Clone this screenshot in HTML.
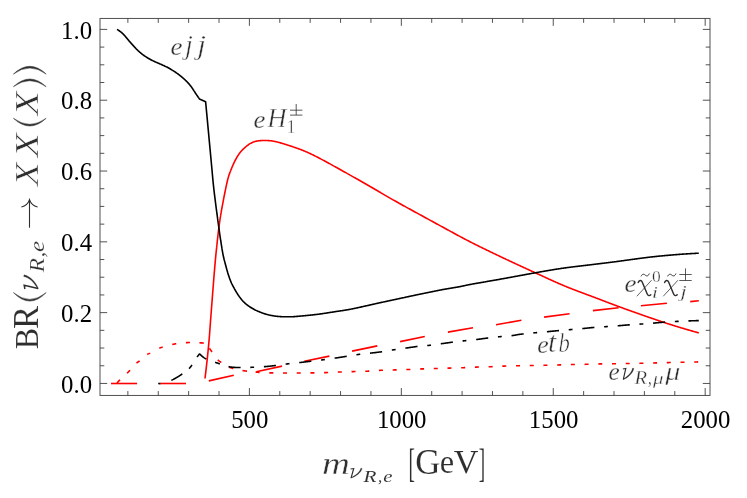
<!DOCTYPE html>
<html><head><meta charset="utf-8"><title>BR plot</title>
<style>html,body{margin:0;padding:0;background:#fff;}svg{display:block;will-change:transform;}text{font-family:"Liberation Serif",serif;}</style>
</head><body>
<svg width="747" height="498" viewBox="0 0 747 498">
<rect x="0" y="0" width="747" height="498" fill="#ffffff"/>
<g fill="none" stroke-width="1.6" stroke-linejoin="round" stroke-linecap="butt">
<path d="M205.00,378.50 L205.06,378.00 L205.12,377.51 L205.18,377.01 L205.24,376.51 L205.29,376.01 L205.35,375.52 L205.41,375.02 L205.47,374.52 L205.53,374.03 L205.59,373.53 L205.64,373.03 L205.70,372.53 L205.76,372.04 L205.82,371.54 L205.88,371.04 L205.93,370.55 L205.99,370.05 L206.05,369.55 L206.11,369.05 L206.16,368.56 L206.22,368.06 L206.28,367.56 L206.34,367.07 L206.39,366.57 L206.45,366.07 L206.51,365.57 L206.56,365.08 L206.62,364.58 L206.67,364.08 L206.73,363.58 L206.79,363.09 L206.84,362.59 L206.90,362.09 L206.95,361.59 L207.01,361.10 L207.06,360.60 L207.11,360.10 L207.17,359.60 L207.22,359.11 L207.28,358.61 L207.33,358.11 L207.38,357.61 L207.44,357.12 L207.49,356.62 L207.54,356.12 L207.60,355.62 L207.65,355.13 L207.70,354.63 L207.75,354.13 L207.80,353.63 L207.85,353.14 L207.90,352.64 L207.96,352.14 L208.01,351.64 L208.06,351.14 L208.11,350.65 L208.16,350.15 L208.20,349.65 L208.25,349.15 L208.30,348.65 L208.35,348.16 L208.40,347.66 L208.45,347.16 L208.49,346.66 L208.54,346.16 L208.59,345.67 L208.63,345.17 L208.68,344.67 L208.73,344.17 L208.77,343.67 L208.82,343.17 L208.86,342.68 L208.90,342.18 L208.95,341.68 L208.99,341.18 L209.04,340.68 L209.08,340.18 L209.12,339.68 L209.16,339.19 L209.20,338.69 L209.25,338.19 L209.29,337.69 L209.33,337.19 L209.37,336.69 L209.41,336.19 L209.45,335.69 L209.48,335.20 L209.52,334.70 L209.56,334.20 L209.60,333.70 L209.64,333.20 L209.67,332.70 L209.71,332.20 L209.75,331.70 L209.78,331.20 L209.82,330.70 L209.86,330.21 L209.89,329.71 L209.93,329.21 L209.96,328.71 L210.00,328.21 L210.04,327.71 L210.07,327.21 L210.11,326.71 L210.14,326.21 L210.18,325.71 L210.21,325.21 L210.25,324.72 L210.29,324.22 L210.32,323.72 L210.36,323.22 L210.40,322.72 L210.43,322.22 L210.47,321.72 L210.51,321.22 L210.54,320.72 L210.58,320.22 L210.62,319.73 L210.66,319.23 L210.70,318.73 L210.74,318.23 L210.77,317.73 L210.81,317.23 L210.85,316.73 L210.89,316.23 L210.93,315.73 L210.97,315.23 L211.00,314.74 L211.04,314.24 L211.08,313.74 L211.12,313.24 L211.16,312.74 L211.20,312.24 L211.24,311.74 L211.27,311.24 L211.31,310.74 L211.35,310.25 L211.39,309.75 L211.43,309.25 L211.47,308.75 L211.50,308.25 L211.54,307.75 L211.58,307.25 L211.62,306.75 L211.66,306.25 L211.70,305.76 L211.74,305.26 L211.77,304.76 L211.81,304.26 L211.85,303.76 L211.89,303.26 L211.93,302.76 L211.97,302.26 L212.01,301.76 L212.04,301.26 L212.08,300.77 L212.12,300.27 L212.16,299.77 L212.20,299.27 L212.24,298.77 L212.28,298.27 L212.31,297.77 L212.35,297.27 L212.39,296.77 L212.43,296.28 L212.47,295.78 L212.51,295.28 L212.55,294.78 L212.58,294.28 L212.62,293.78 L212.66,293.28 L212.70,292.78 L212.74,292.28 L212.78,291.79 L212.82,291.29 L212.86,290.79 L212.90,290.29 L212.93,289.79 L212.97,289.29 L213.01,288.79 L213.05,288.29 L213.09,287.79 L213.13,287.30 L213.17,286.80 L213.21,286.30 L213.25,285.80 L213.28,285.30 L213.32,284.80 L213.36,284.30 L213.40,283.80 L213.44,283.30 L213.48,282.81 L213.52,282.31 L213.56,281.81 L213.60,281.31 L213.64,280.81 L213.68,280.31 L213.71,279.81 L213.75,279.31 L213.79,278.81 L213.83,278.32 L213.87,277.82 L213.91,277.32 L213.95,276.82 L213.99,276.32 L214.03,275.82 L214.07,275.32 L214.12,274.82 L214.16,274.33 L214.20,273.83 L214.24,273.33 L214.28,272.83 L214.32,272.33 L214.36,271.83 L214.40,271.33 L214.45,270.83 L214.49,270.34 L214.53,269.84 L214.57,269.34 L214.61,268.84 L214.66,268.34 L214.70,267.84 L214.74,267.34 L214.78,266.85 L214.83,266.35 L214.87,265.85 L214.91,265.35 L214.95,264.85 L215.00,264.35 L215.04,263.85 L215.08,263.36 L215.13,262.86 L215.17,262.36 L215.21,261.86 L215.26,261.36 L215.31,260.86 L215.35,260.37 L215.40,259.87 L215.44,259.37 L215.49,258.87 L215.54,258.37 L215.59,257.87 L215.63,257.38 L215.68,256.88 L215.73,256.38 L215.78,255.88 L215.83,255.38 L215.88,254.89 L215.93,254.39 L215.98,253.89 L216.03,253.39 L216.08,252.89 L216.13,252.40 L216.18,251.90 L216.23,251.40 L216.28,250.90 L216.34,250.41 L216.39,249.91 L216.44,249.41 L216.49,248.91 L216.54,248.41 L216.60,247.92 L216.65,247.42 L216.70,246.92 L216.75,246.42 L216.81,245.93 L216.86,245.43 L216.91,244.93 L216.96,244.43 L217.02,243.94 L217.07,243.44 L217.12,242.94 L217.17,242.44 L217.23,241.94 L217.28,241.45 L217.33,240.95 L217.39,240.45 L217.44,239.95 L217.49,239.46 L217.55,238.96 L217.60,238.46 L217.66,237.96 L217.71,237.47 L217.77,236.97 L217.82,236.47 L217.88,235.98 L217.94,235.48 L217.99,234.98 L218.05,234.48 L218.11,233.99 L218.16,233.49 L218.22,232.99 L218.28,232.50 L218.34,232.00 L218.40,231.50 L218.46,231.01 L218.52,230.51 L218.58,230.01 L218.64,229.52 L218.70,229.02 L218.77,228.52 L218.83,228.03 L218.89,227.53 L218.96,227.03 L219.02,226.54 L219.09,226.04 L219.15,225.54 L219.22,225.05 L219.28,224.55 L219.35,224.06 L219.42,223.56 L219.49,223.06 L219.56,222.57 L219.63,222.07 L219.70,221.58 L219.77,221.08 L219.84,220.59 L219.92,220.09 L219.99,219.60 L220.06,219.10 L220.14,218.61 L220.21,218.11 L220.29,217.62 L220.37,217.12 L220.45,216.63 L220.52,216.13 L220.60,215.64 L220.69,215.15 L220.77,214.65 L220.85,214.16 L220.93,213.66 L221.01,213.17 L221.10,212.68 L221.18,212.18 L221.27,211.69 L221.35,211.20 L221.44,210.71 L221.53,210.21 L221.62,209.72 L221.70,209.23 L221.79,208.74 L221.88,208.24 L221.97,207.75 L222.06,207.26 L222.15,206.77 L222.24,206.27 L222.33,205.78 L222.42,205.29 L222.51,204.80 L222.61,204.31 L222.70,203.81 L222.79,203.32 L222.88,202.83 L222.98,202.34 L223.07,201.85 L223.16,201.36 L223.26,200.86 L223.35,200.37 L223.44,199.88 L223.54,199.39 L223.63,198.90 L223.72,198.41 L223.82,197.91 L223.92,197.42 L224.01,196.93 L224.11,196.44 L224.21,195.95 L224.30,195.46 L224.40,194.97 L224.50,194.48 L224.60,193.99 L224.69,193.50 L224.79,193.01 L224.89,192.52 L224.99,192.03 L225.09,191.53 L225.19,191.04 L225.29,190.55 L225.39,190.06 L225.49,189.57 L225.59,189.08 L225.69,188.59 L225.79,188.10 L225.89,187.61 L225.99,187.12 L226.10,186.63 L226.20,186.14 L226.31,185.65 L226.41,185.17 L226.52,184.68 L226.63,184.19 L226.74,183.70 L226.85,183.21 L226.96,182.73 L227.07,182.24 L227.19,181.75 L227.30,181.26 L227.42,180.78 L227.54,180.29 L227.66,179.81 L227.78,179.32 L227.91,178.84 L228.04,178.35 L228.16,177.87 L228.30,177.38 L228.43,176.90 L228.57,176.42 L228.71,175.94 L228.86,175.46 L229.02,174.99 L229.18,174.51 L229.35,174.04 L229.52,173.57 L229.70,173.10 L229.88,172.64 L230.06,172.17 L230.24,171.70 L230.43,171.24 L230.61,170.77 L230.80,170.31 L230.98,169.84 L231.17,169.38 L231.36,168.91 L231.55,168.45 L231.74,167.98 L231.93,167.52 L232.12,167.06 L232.31,166.60 L232.51,166.14 L232.70,165.68 L232.90,165.22 L233.10,164.76 L233.31,164.30 L233.51,163.85 L233.72,163.39 L233.93,162.94 L234.14,162.48 L234.36,162.03 L234.58,161.59 L234.81,161.14 L235.04,160.70 L235.28,160.25 L235.51,159.81 L235.75,159.37 L235.99,158.94 L236.24,158.50 L236.48,158.06 L236.73,157.63 L236.98,157.19 L237.23,156.76 L237.49,156.33 L237.75,155.90 L238.02,155.48 L238.29,155.07 L238.57,154.65 L238.85,154.24 L239.14,153.83 L239.44,153.42 L239.74,153.02 L240.04,152.61 L240.35,152.22 L240.67,151.83 L240.99,151.45 L241.32,151.07 L241.66,150.71 L242.00,150.34 L242.35,149.98 L242.70,149.63 L243.05,149.28 L243.41,148.94 L243.78,148.59 L244.14,148.25 L244.52,147.92 L244.89,147.58 L245.27,147.25 L245.66,146.91 L246.04,146.58 L246.43,146.25 L246.82,145.93 L247.21,145.62 L247.61,145.32 L248.01,145.02 L248.41,144.73 L248.82,144.45 L249.23,144.18 L249.66,143.92 L250.08,143.66 L250.52,143.41 L250.96,143.17 L251.42,142.94 L251.88,142.71 L252.35,142.50 L252.82,142.29 L253.29,142.10 L253.76,141.93 L254.23,141.76 L254.71,141.61 L255.19,141.47 L255.67,141.34 L256.16,141.22 L256.64,141.11 L257.13,141.02 L257.62,140.93 L258.12,140.86 L258.62,140.80 L259.12,140.74 L259.62,140.69 L260.12,140.65 L260.62,140.61 L261.12,140.58 L261.62,140.55 L262.12,140.52 L262.62,140.50 L263.12,140.49 L263.62,140.48 L264.12,140.47 L264.62,140.47 L265.12,140.48 L265.62,140.49 L266.12,140.51 L266.62,140.53 L267.12,140.55 L267.62,140.57 L268.11,140.59 L268.61,140.62 L269.11,140.65 L269.61,140.68 L270.11,140.72 L270.61,140.77 L271.11,140.82 L271.61,140.88 L272.10,140.95 L272.60,141.03 L273.10,141.12 L273.59,141.21 L274.09,141.31 L274.58,141.41 L275.07,141.51 L275.56,141.61 L276.05,141.72 L276.53,141.84 L277.02,141.95 L277.51,142.07 L277.99,142.19 L278.47,142.32 L278.95,142.45 L279.44,142.58 L279.92,142.72 L280.40,142.86 L280.88,143.00 L281.36,143.14 L281.84,143.28 L282.32,143.42 L282.80,143.57 L283.28,143.71 L283.76,143.86 L284.24,144.00 L284.72,144.15 L285.19,144.29 L285.67,144.44 L286.15,144.59 L286.63,144.74 L287.10,144.89 L287.58,145.04 L288.06,145.19 L288.53,145.35 L289.01,145.50 L289.49,145.66 L289.96,145.81 L290.44,145.97 L290.91,146.12 L291.39,146.28 L291.86,146.44 L292.34,146.60 L292.81,146.75 L293.29,146.91 L293.76,147.07 L294.23,147.24 L294.71,147.40 L295.18,147.56 L295.65,147.73 L296.12,147.89 L296.60,148.06 L297.07,148.23 L297.54,148.39 L298.01,148.56 L298.48,148.74 L298.95,148.91 L299.42,149.08 L299.89,149.26 L300.36,149.44 L300.83,149.61 L301.29,149.79 L301.76,149.98 L302.22,150.16 L302.69,150.35 L303.15,150.53 L303.62,150.72 L304.08,150.91 L304.54,151.10 L305.00,151.30 L305.47,151.49 L305.93,151.69 L306.39,151.89 L306.84,152.09 L307.30,152.29 L307.76,152.49 L308.22,152.69 L308.67,152.90 L309.13,153.11 L309.58,153.32 L310.04,153.53 L310.49,153.74 L310.94,153.95 L311.40,154.17 L311.85,154.38 L312.30,154.60 L312.75,154.82 L313.20,155.04 L313.65,155.26 L314.10,155.48 L314.55,155.70 L314.99,155.93 L315.44,156.15 L315.89,156.37 L316.34,156.60 L316.78,156.83 L317.23,157.05 L317.67,157.28 L318.12,157.51 L318.56,157.74 L319.00,157.97 L319.45,158.21 L319.89,158.44 L320.33,158.68 L320.77,158.91 L321.21,159.15 L321.66,159.38 L322.10,159.62 L322.54,159.85 L322.98,160.09 L323.42,160.33 L323.86,160.56 L324.30,160.80 L324.74,161.04 L325.18,161.27 L325.62,161.51 L326.06,161.75 L326.50,161.99 L326.94,162.23 L327.38,162.47 L327.82,162.70 L328.26,162.94 L328.70,163.18 L329.14,163.43 L329.58,163.67 L330.02,163.91 L330.45,164.15 L330.89,164.39 L331.33,164.64 L331.77,164.88 L332.21,165.12 L332.64,165.36 L333.08,165.61 L333.52,165.85 L333.96,166.09 L334.39,166.33 L334.83,166.58 L335.27,166.82 L335.71,167.06 L336.14,167.31 L336.58,167.55 L337.02,167.79 L337.46,168.04 L337.89,168.28 L338.33,168.52 L338.77,168.77 L339.20,169.01 L339.64,169.25 L340.08,169.50 L340.52,169.74 L340.95,169.98 L341.39,170.23 L341.83,170.47 L342.26,170.72 L342.70,170.96 L343.14,171.20 L343.57,171.45 L344.01,171.69 L344.45,171.94 L344.89,172.18 L345.32,172.42 L345.76,172.67 L346.20,172.91 L346.63,173.16 L347.07,173.40 L347.50,173.65 L347.94,173.89 L348.38,174.14 L348.81,174.38 L349.25,174.63 L349.69,174.87 L350.12,175.12 L350.56,175.36 L351.00,175.61 L351.43,175.85 L351.87,176.10 L352.30,176.34 L352.74,176.59 L353.18,176.83 L353.61,177.08 L354.05,177.32 L354.48,177.57 L354.92,177.82 L355.36,178.06 L355.79,178.31 L356.23,178.55 L356.66,178.80 L357.10,179.05 L357.53,179.29 L357.97,179.54 L358.41,179.78 L358.84,180.03 L359.28,180.28 L359.71,180.52 L360.15,180.77 L360.58,181.02 L361.02,181.26 L361.45,181.51 L361.89,181.76 L362.32,182.01 L362.76,182.26 L363.19,182.50 L363.63,182.75 L364.06,183.00 L364.49,183.25 L364.93,183.50 L365.36,183.75 L365.80,184.00 L366.23,184.25 L366.66,184.50 L367.10,184.75 L367.53,185.00 L367.96,185.25 L368.40,185.50 L368.83,185.75 L369.26,186.00 L369.69,186.26 L370.13,186.51 L370.56,186.76 L370.99,187.01 L371.42,187.26 L371.86,187.51 L372.29,187.77 L372.72,188.02 L373.15,188.27 L373.58,188.52 L374.02,188.78 L374.45,189.03 L374.88,189.28 L375.31,189.53 L375.75,189.79 L376.18,190.04 L376.61,190.29 L377.04,190.54 L377.47,190.80 L377.91,191.05 L378.34,191.30 L378.77,191.55 L379.20,191.81 L379.63,192.06 L380.07,192.31 L380.50,192.56 L380.93,192.82 L381.36,193.07 L381.79,193.32 L382.23,193.57 L382.66,193.83 L383.09,194.08 L383.52,194.33 L383.95,194.58 L384.39,194.83 L384.82,195.09 L385.25,195.34 L385.69,195.59 L386.12,195.84 L386.55,196.09 L386.98,196.34 L387.42,196.59 L387.85,196.84 L388.28,197.09 L388.72,197.34 L389.15,197.59 L389.58,197.84 L390.02,198.09 L390.45,198.34 L390.89,198.59 L391.32,198.84 L391.75,199.09 L392.19,199.34 L392.62,199.58 L393.06,199.83 L393.49,200.08 L393.93,200.33 L394.36,200.57 L394.80,200.82 L395.23,201.07 L395.67,201.31 L396.11,201.56 L396.54,201.80 L396.98,202.05 L397.41,202.29 L397.85,202.54 L398.29,202.78 L398.72,203.03 L399.16,203.27 L399.60,203.51 L400.04,203.75 L400.48,204.00 L400.91,204.24 L401.35,204.48 L401.79,204.72 L402.23,204.96 L402.67,205.21 L403.10,205.45 L403.54,205.69 L403.98,205.93 L404.42,206.17 L404.86,206.41 L405.30,206.65 L405.73,206.90 L406.17,207.14 L406.61,207.38 L407.05,207.62 L407.49,207.86 L407.93,208.10 L408.37,208.34 L408.80,208.58 L409.24,208.82 L409.68,209.07 L410.12,209.31 L410.56,209.55 L411.00,209.79 L411.44,210.03 L411.87,210.27 L412.31,210.51 L412.75,210.75 L413.19,210.99 L413.63,211.23 L414.07,211.47 L414.51,211.71 L414.95,211.95 L415.39,212.19 L415.82,212.43 L416.26,212.67 L416.70,212.91 L417.14,213.15 L417.58,213.39 L418.02,213.63 L418.46,213.87 L418.90,214.11 L419.34,214.35 L419.78,214.59 L420.22,214.83 L420.65,215.07 L421.09,215.31 L421.53,215.55 L421.97,215.79 L422.41,216.03 L422.85,216.27 L423.29,216.51 L423.73,216.75 L424.17,216.99 L424.61,217.23 L425.05,217.47 L425.49,217.71 L425.93,217.95 L426.36,218.19 L426.80,218.43 L427.24,218.67 L427.68,218.91 L428.12,219.15 L428.56,219.39 L429.00,219.63 L429.44,219.87 L429.88,220.11 L430.32,220.35 L430.76,220.59 L431.20,220.83 L431.64,221.06 L432.08,221.30 L432.51,221.54 L432.95,221.78 L433.39,222.02 L433.83,222.26 L434.27,222.50 L434.71,222.74 L435.15,222.98 L435.59,223.22 L436.03,223.46 L436.47,223.70 L436.91,223.94 L437.35,224.18 L437.79,224.42 L438.23,224.66 L438.67,224.90 L439.10,225.14 L439.54,225.38 L439.98,225.62 L440.42,225.86 L440.86,226.10 L441.30,226.34 L441.74,226.58 L442.18,226.82 L442.62,227.06 L443.06,227.30 L443.50,227.54 L443.94,227.78 L444.38,228.02 L444.81,228.25 L445.25,228.49 L445.69,228.73 L446.13,228.97 L446.57,229.21 L447.01,229.45 L447.45,229.69 L447.89,229.93 L448.33,230.17 L448.77,230.41 L449.21,230.65 L449.65,230.89 L450.09,231.13 L450.53,231.37 L450.97,231.61 L451.41,231.85 L451.85,232.08 L452.29,232.32 L452.73,232.56 L453.16,232.80 L453.60,233.04 L454.04,233.28 L454.48,233.52 L454.92,233.76 L455.36,233.99 L455.80,234.23 L456.24,234.47 L456.68,234.71 L457.12,234.95 L457.56,235.19 L458.00,235.42 L458.45,235.66 L458.89,235.90 L459.33,236.14 L459.77,236.37 L460.21,236.61 L460.65,236.85 L461.09,237.09 L461.53,237.32 L461.97,237.56 L462.41,237.79 L462.85,238.03 L463.30,238.26 L463.74,238.49 L464.18,238.73 L464.62,238.96 L465.07,239.19 L465.51,239.43 L465.95,239.66 L466.40,239.89 L466.84,240.12 L467.29,240.35 L467.73,240.58 L468.18,240.81 L468.62,241.04 L469.06,241.27 L469.51,241.50 L469.96,241.73 L470.40,241.95 L470.85,242.18 L471.29,242.41 L471.74,242.64 L472.18,242.86 L472.63,243.09 L473.08,243.31 L473.52,243.54 L473.97,243.76 L474.42,243.99 L474.87,244.21 L475.31,244.44 L475.76,244.66 L476.21,244.89 L476.66,245.11 L477.10,245.33 L477.55,245.56 L478.00,245.78 L478.45,246.00 L478.90,246.22 L479.35,246.44 L479.79,246.67 L480.24,246.89 L480.69,247.11 L481.14,247.33 L481.59,247.55 L482.04,247.77 L482.49,247.99 L482.94,248.21 L483.39,248.43 L483.84,248.65 L484.29,248.87 L484.74,249.09 L485.19,249.30 L485.64,249.52 L486.09,249.74 L486.54,249.96 L486.99,250.18 L487.44,250.40 L487.89,250.61 L488.34,250.83 L488.79,251.05 L489.24,251.26 L489.70,251.48 L490.15,251.70 L490.60,251.92 L491.05,252.13 L491.50,252.35 L491.95,252.57 L492.40,252.78 L492.85,253.00 L493.31,253.21 L493.76,253.43 L494.21,253.65 L494.66,253.86 L495.11,254.08 L495.56,254.29 L496.02,254.51 L496.47,254.72 L496.92,254.94 L497.37,255.15 L497.82,255.37 L498.28,255.58 L498.73,255.80 L499.18,256.01 L499.63,256.23 L500.08,256.44 L500.54,256.66 L500.99,256.87 L501.44,257.09 L501.89,257.30 L502.34,257.52 L502.80,257.73 L503.25,257.95 L503.70,258.16 L504.15,258.37 L504.61,258.59 L505.06,258.80 L505.51,259.01 L505.96,259.23 L506.42,259.44 L506.87,259.65 L507.32,259.87 L507.78,260.08 L508.23,260.29 L508.68,260.51 L509.13,260.72 L509.59,260.93 L510.04,261.14 L510.49,261.35 L510.95,261.57 L511.40,261.78 L511.85,261.99 L512.31,262.20 L512.76,262.41 L513.21,262.62 L513.67,262.84 L514.12,263.05 L514.58,263.26 L515.03,263.47 L515.48,263.68 L515.94,263.89 L516.39,264.10 L516.84,264.31 L517.30,264.52 L517.75,264.73 L518.21,264.94 L518.66,265.15 L519.11,265.36 L519.57,265.57 L520.02,265.78 L520.48,265.99 L520.93,266.20 L521.38,266.41 L521.84,266.62 L522.29,266.83 L522.75,267.04 L523.20,267.25 L523.66,267.46 L524.11,267.67 L524.57,267.88 L525.02,268.09 L525.48,268.30 L525.93,268.51 L526.38,268.72 L526.84,268.92 L527.29,269.13 L527.75,269.34 L528.20,269.55 L528.66,269.76 L529.11,269.97 L529.57,270.18 L530.02,270.39 L530.48,270.59 L530.93,270.80 L531.39,271.01 L531.84,271.22 L532.30,271.43 L532.75,271.64 L533.21,271.84 L533.66,272.05 L534.12,272.26 L534.57,272.47 L535.03,272.68 L535.48,272.88 L535.94,273.09 L536.39,273.30 L536.85,273.51 L537.30,273.72 L537.76,273.93 L538.21,274.14 L538.67,274.34 L539.12,274.55 L539.58,274.76 L540.03,274.97 L540.49,275.18 L540.94,275.39 L541.40,275.60 L541.85,275.81 L542.31,276.02 L542.76,276.23 L543.22,276.44 L543.67,276.65 L544.13,276.86 L544.58,277.07 L545.03,277.28 L545.49,277.49 L545.94,277.69 L546.40,277.90 L546.85,278.11 L547.31,278.32 L547.76,278.53 L548.22,278.74 L548.67,278.95 L549.13,279.15 L549.59,279.36 L550.04,279.57 L550.50,279.78 L550.95,279.98 L551.41,280.19 L551.86,280.40 L552.32,280.60 L552.78,280.81 L553.23,281.01 L553.69,281.22 L554.15,281.42 L554.60,281.63 L555.06,281.83 L555.52,282.03 L555.97,282.24 L556.43,282.44 L556.89,282.64 L557.35,282.84 L557.81,283.05 L558.26,283.25 L558.72,283.45 L559.18,283.65 L559.64,283.85 L560.10,284.04 L560.56,284.24 L561.02,284.44 L561.48,284.64 L561.94,284.83 L562.40,285.03 L562.86,285.22 L563.32,285.42 L563.78,285.61 L564.24,285.81 L564.71,286.00 L565.17,286.19 L565.63,286.38 L566.09,286.57 L566.56,286.76 L567.02,286.95 L567.48,287.14 L567.95,287.33 L568.41,287.51 L568.88,287.70 L569.34,287.88 L569.81,288.07 L570.27,288.25 L570.74,288.43 L571.21,288.61 L571.67,288.80 L572.14,288.98 L572.60,289.16 L573.07,289.34 L573.54,289.52 L574.01,289.70 L574.47,289.88 L574.94,290.06 L575.41,290.24 L575.87,290.42 L576.34,290.59 L576.81,290.77 L577.28,290.95 L577.75,291.13 L578.21,291.30 L578.68,291.48 L579.15,291.66 L579.62,291.84 L580.09,292.01 L580.55,292.19 L581.02,292.36 L581.49,292.54 L581.96,292.72 L582.43,292.89 L582.90,293.07 L583.37,293.24 L583.83,293.42 L584.30,293.59 L584.77,293.77 L585.24,293.94 L585.71,294.12 L586.18,294.29 L586.65,294.47 L587.12,294.64 L587.59,294.82 L588.05,294.99 L588.52,295.17 L588.99,295.34 L589.46,295.51 L589.93,295.69 L590.40,295.86 L590.87,296.04 L591.34,296.21 L591.81,296.39 L592.27,296.56 L592.74,296.74 L593.21,296.91 L593.68,297.09 L594.15,297.26 L594.62,297.44 L595.09,297.61 L595.56,297.79 L596.02,297.97 L596.49,298.14 L596.96,298.32 L597.43,298.49 L597.90,298.67 L598.37,298.85 L598.83,299.02 L599.30,299.20 L599.77,299.38 L600.24,299.56 L600.70,299.73 L601.17,299.91 L601.64,300.09 L602.11,300.27 L602.57,300.45 L603.04,300.63 L603.51,300.81 L603.98,300.99 L604.44,301.17 L604.91,301.35 L605.38,301.53 L605.84,301.71 L606.31,301.89 L606.78,302.07 L607.24,302.25 L607.71,302.42 L608.18,302.60 L608.65,302.78 L609.11,302.96 L609.58,303.14 L610.05,303.32 L610.52,303.50 L610.98,303.67 L611.45,303.85 L611.92,304.03 L612.39,304.21 L612.86,304.38 L613.32,304.56 L613.79,304.74 L614.26,304.91 L614.73,305.09 L615.20,305.26 L615.67,305.44 L616.14,305.61 L616.61,305.79 L617.07,305.96 L617.54,306.14 L618.01,306.31 L618.48,306.49 L618.95,306.66 L619.42,306.83 L619.89,307.01 L620.36,307.18 L620.83,307.35 L621.30,307.53 L621.77,307.70 L622.24,307.87 L622.71,308.04 L623.18,308.21 L623.65,308.39 L624.12,308.56 L624.59,308.73 L625.06,308.90 L625.53,309.07 L626.00,309.24 L626.47,309.41 L626.94,309.58 L627.41,309.75 L627.88,309.92 L628.35,310.09 L628.82,310.26 L629.29,310.43 L629.76,310.60 L630.24,310.77 L630.71,310.94 L631.18,311.11 L631.65,311.27 L632.12,311.44 L632.59,311.61 L633.06,311.78 L633.53,311.95 L634.01,312.11 L634.48,312.28 L634.95,312.45 L635.42,312.62 L635.89,312.78 L636.37,312.95 L636.84,313.12 L637.31,313.28 L637.78,313.45 L638.25,313.61 L638.73,313.78 L639.20,313.95 L639.67,314.11 L640.14,314.28 L640.61,314.44 L641.09,314.61 L641.56,314.77 L642.03,314.94 L642.50,315.10 L642.98,315.27 L643.45,315.43 L643.92,315.60 L644.39,315.76 L644.87,315.92 L645.34,316.09 L645.81,316.25 L646.29,316.41 L646.76,316.58 L647.23,316.74 L647.71,316.90 L648.18,317.07 L648.65,317.23 L649.13,317.39 L649.60,317.56 L650.07,317.72 L650.55,317.88 L651.02,318.04 L651.49,318.21 L651.97,318.37 L652.44,318.53 L652.91,318.69 L653.39,318.85 L653.86,319.02 L654.33,319.18 L654.81,319.34 L655.28,319.50 L655.75,319.66 L656.23,319.82 L656.70,319.98 L657.18,320.14 L657.65,320.30 L658.12,320.47 L658.60,320.63 L659.07,320.79 L659.55,320.95 L660.02,321.11 L660.49,321.27 L660.97,321.43 L661.44,321.59 L661.92,321.74 L662.39,321.90 L662.87,322.06 L663.34,322.22 L663.82,322.37 L664.29,322.53 L664.77,322.69 L665.24,322.84 L665.72,323.00 L666.20,323.15 L666.67,323.31 L667.15,323.46 L667.62,323.62 L668.10,323.77 L668.58,323.92 L669.05,324.07 L669.53,324.23 L670.01,324.38 L670.48,324.53 L670.96,324.68 L671.44,324.83 L671.91,324.98 L672.39,325.13 L672.87,325.28 L673.35,325.43 L673.82,325.58 L674.30,325.73 L674.78,325.87 L675.26,326.02 L675.74,326.17 L676.21,326.32 L676.69,326.46 L677.17,326.61 L677.65,326.76 L678.13,326.90 L678.61,327.05 L679.09,327.19 L679.57,327.34 L680.04,327.48 L680.52,327.63 L681.00,327.77 L681.48,327.91 L681.96,328.06 L682.44,328.20 L682.92,328.34 L683.40,328.48 L683.88,328.63 L684.36,328.77 L684.84,328.91 L685.32,329.05 L685.80,329.19 L686.28,329.33 L686.76,329.47 L687.24,329.61 L687.72,329.75 L688.20,329.89 L688.69,330.03 L689.17,330.17 L689.65,330.31 L690.13,330.45 L690.61,330.58 L691.09,330.72 L691.57,330.86 L692.05,331.00 L692.53,331.13 L693.02,331.27 L693.50,331.41 L693.98,331.55 L694.46,331.68 L694.94,331.82 L695.42,331.95 L695.91,332.09 L696.39,332.23 L696.87,332.36 L697.35,332.50 L697.84,332.63 L698.32,332.77 L698.80,332.90" stroke="#ff0000"/>
<path d="M111.0,383.5 L137.1,383.5" stroke="#ff0000"/>
<path d="M160.2,383.5 L186.0,383.5" stroke="#ff0000"/>
<path d="M208.8,380.9 L233.8,375.2" stroke="#ff0000"/>
<path d="M256.3,371.8 L282.0,366.1" stroke="#ff0000"/>
<path d="M304.3,361.2 L329.4,356.1" stroke="#ff0000"/>
<path d="M352.1,351.1 L377.3,345.9" stroke="#ff0000"/>
<path d="M400.1,341.6 L424.8,336.5" stroke="#ff0000"/>
<path d="M447.9,332.1 L473.0,327.7" stroke="#ff0000"/>
<path d="M496.0,324.7 L521.4,320.2" stroke="#ff0000"/>
<path d="M544.1,317.1 L569.6,313.7" stroke="#ff0000"/>
<path d="M592.9,310.6 L618.6,307.8" stroke="#ff0000"/>
<path d="M640.9,305.7 L666.9,303.2" stroke="#ff0000"/>
<path d="M690.2,301.6 L698.8,300.8" stroke="#ff0000"/>
<path d="M117.00,382.90 L117.60,382.25 L118.20,381.62 L118.80,381.00 L119.40,380.39 L120.00,379.80" stroke="#ff0000"/>
<path d="M127.10,373.20 L127.70,372.61 L128.30,372.02 L128.90,371.42 L129.50,370.81 L130.10,370.20" stroke="#ff0000"/>
<path d="M136.50,363.20 L137.12,362.68 L137.74,362.20 L138.36,361.74 L138.98,361.28 L139.60,360.80" stroke="#ff0000"/>
<path d="M147.20,354.50 L147.80,354.15 L148.40,353.87 L149.00,353.62 L149.60,353.38 L150.20,353.10" stroke="#ff0000"/>
<path d="M159.20,348.10 L159.78,347.92 L160.37,347.74 L160.95,347.58 L161.53,347.42 L162.12,347.26 L162.70,347.10" stroke="#ff0000"/>
<path d="M172.30,344.50 L172.87,344.36 L173.44,344.22 L174.01,344.10 L174.59,343.99 L175.16,343.88 L175.73,343.79 L176.30,343.70" stroke="#ff0000"/>
<path d="M185.90,342.70 L186.49,342.66 L187.07,342.62 L187.66,342.58 L188.24,342.55 L188.83,342.52 L189.41,342.51 L190.00,342.50" stroke="#ff0000"/>
<path d="M199.40,342.80 L200.03,342.82 L200.66,342.85 L201.29,342.88 L201.91,342.92 L202.54,342.97 L203.17,343.03 L203.80,343.11" stroke="#ff0000"/>
<path d="M209.40,348.26 L210.05,349.18 L210.70,350.11 L211.35,351.04 L212.00,351.96" stroke="#ff0000"/>
<path d="M217.80,359.79 L218.38,360.43 L218.97,360.93 L219.55,361.36 L220.13,361.76 L220.72,362.15 L221.30,362.53" stroke="#ff0000"/>
<path d="M229.20,367.14 L229.80,367.40 L230.40,367.64 L231.00,367.85 L231.60,368.05 L232.20,368.23 L232.80,368.40 L233.40,368.55" stroke="#ff0000"/>
<path d="M242.50,370.50 L243.06,370.59 L243.62,370.68 L244.19,370.77 L244.75,370.86 L245.31,370.94 L245.88,371.02 L246.44,371.09 L247.00,371.16" stroke="#ff0000"/>
<path d="M255.60,372.11 L256.17,372.16 L256.74,372.21 L257.31,372.25 L257.89,372.29 L258.46,372.33 L259.03,372.37 L259.60,372.41" stroke="#ff0000"/>
<path d="M269.31,372.85 L269.88,372.87 L270.45,372.88 L271.02,372.89 L271.59,372.89 L272.16,372.90 L272.74,372.91 L273.31,372.91" stroke="#ff0000"/>
<path d="M283.01,372.99 L283.59,372.99 L284.16,373.00 L284.73,373.00 L285.30,373.00 L285.87,373.00 L286.44,373.00 L287.01,373.00" stroke="#ff0000"/>
<path d="M296.72,373.01 L297.29,373.01 L297.86,373.00 L298.44,373.00 L299.01,373.00 L299.58,373.00 L300.15,373.00 L300.72,373.00" stroke="#ff0000"/>
<path d="M310.43,372.92 L311.00,372.91 L311.57,372.91 L312.14,372.90 L312.71,372.89 L313.29,372.88 L313.86,372.88 L314.43,372.87" stroke="#ff0000"/>
<path d="M324.13,372.66 L324.71,372.64 L325.28,372.62 L325.85,372.60 L326.42,372.59 L326.99,372.57 L327.56,372.54 L328.13,372.52" stroke="#ff0000"/>
<path d="M337.84,372.08 L338.41,372.06 L338.98,372.03 L339.56,372.01 L340.13,372.00 L340.70,371.98 L341.27,371.96 L341.84,371.94" stroke="#ff0000"/>
<path d="M351.55,371.64 L352.12,371.63 L352.69,371.61 L353.26,371.59 L353.83,371.58 L354.41,371.56 L354.98,371.54 L355.55,371.53" stroke="#ff0000"/>
<path d="M365.26,371.25 L365.83,371.24 L366.40,371.22 L366.97,371.20 L367.54,371.18 L368.11,371.16 L368.68,371.13 L369.26,371.10" stroke="#ff0000"/>
<path d="M378.96,370.39 L379.53,370.36 L380.11,370.33 L380.68,370.31 L381.25,370.29 L381.82,370.28 L382.39,370.26 L382.96,370.24" stroke="#ff0000"/>
<path d="M392.67,369.97 L393.24,369.95 L393.81,369.93 L394.38,369.92 L394.96,369.90 L395.53,369.88 L396.10,369.87 L396.67,369.85" stroke="#ff0000"/>
<path d="M406.38,369.57 L406.95,369.56 L407.52,369.54 L408.09,369.53 L408.66,369.51 L409.23,369.49 L409.81,369.47 L410.38,369.45" stroke="#ff0000"/>
<path d="M420.08,368.97 L420.66,368.95 L421.23,368.92 L421.80,368.91 L422.37,368.89 L422.94,368.87 L423.51,368.86 L424.08,368.84" stroke="#ff0000"/>
<path d="M433.79,368.56 L434.36,368.55 L434.93,368.53 L435.51,368.51 L436.08,368.50 L436.65,368.48 L437.22,368.47 L437.79,368.45" stroke="#ff0000"/>
<path d="M447.50,368.17 L448.07,368.16 L448.64,368.14 L449.21,368.12 L449.78,368.11 L450.36,368.09 L450.93,368.07 L451.50,368.06" stroke="#ff0000"/>
<path d="M461.20,367.76 L461.78,367.74 L462.35,367.72 L462.92,367.70 L463.49,367.68 L464.06,367.66 L464.63,367.64 L465.20,367.62" stroke="#ff0000"/>
<path d="M474.91,367.18 L475.48,367.16 L476.05,367.14 L476.63,367.11 L477.20,367.09 L477.77,367.07 L478.34,367.05 L478.91,367.04" stroke="#ff0000"/>
<path d="M488.62,366.78 L489.19,366.76 L489.76,366.74 L490.33,366.72 L490.90,366.70 L491.48,366.68 L492.05,366.66 L492.62,366.64" stroke="#ff0000"/>
<path d="M502.33,366.17 L502.90,366.14 L503.47,366.12 L504.04,366.10 L504.61,366.08 L505.18,366.06 L505.75,366.04 L506.33,366.02" stroke="#ff0000"/>
<path d="M516.03,365.73 L516.60,365.72 L517.18,365.71 L517.75,365.70 L518.32,365.70 L518.89,365.69 L519.46,365.68 L520.03,365.67" stroke="#ff0000"/>
<path d="M529.74,365.53 L530.31,365.52 L530.88,365.51 L531.45,365.50 L532.03,365.50 L532.60,365.49 L533.17,365.48 L533.74,365.47" stroke="#ff0000"/>
<path d="M543.45,365.33 L544.02,365.32 L544.59,365.31 L545.16,365.31 L545.73,365.30 L546.30,365.29 L546.88,365.27 L547.45,365.26" stroke="#ff0000"/>
<path d="M557.15,364.96 L557.73,364.94 L558.30,364.93 L558.87,364.91 L559.44,364.89 L560.01,364.88 L560.58,364.86 L561.15,364.84" stroke="#ff0000"/>
<path d="M570.86,364.57 L571.43,364.55 L572.00,364.53 L572.58,364.52 L573.15,364.50 L573.72,364.49 L574.29,364.47 L574.86,364.46" stroke="#ff0000"/>
<path d="M584.57,364.34 L585.14,364.33 L585.71,364.32 L586.28,364.31 L586.85,364.30 L587.43,364.29 L588.00,364.27 L588.57,364.26" stroke="#ff0000"/>
<path d="M598.27,363.94 L598.85,363.93 L599.42,363.92 L599.99,363.91 L600.56,363.90 L601.13,363.89 L601.70,363.88 L602.27,363.87" stroke="#ff0000"/>
<path d="M611.98,363.73 L612.55,363.73 L613.12,363.72 L613.70,363.71 L614.27,363.70 L614.84,363.69 L615.41,363.69 L615.98,363.68" stroke="#ff0000"/>
<path d="M625.69,363.54 L626.26,363.53 L626.83,363.52 L627.40,363.51 L627.97,363.50 L628.55,363.49 L629.12,363.49 L629.69,363.48" stroke="#ff0000"/>
<path d="M639.40,363.33 L639.97,363.32 L640.54,363.32 L641.11,363.31 L641.68,363.30 L642.25,363.29 L642.82,363.28 L643.40,363.26" stroke="#ff0000"/>
<path d="M653.10,362.97 L653.67,362.95 L654.25,362.94 L654.82,362.92 L655.39,362.91 L655.96,362.89 L656.53,362.88 L657.10,362.86" stroke="#ff0000"/>
<path d="M666.81,362.63 L667.38,362.61 L667.95,362.60 L668.52,362.58 L669.10,362.57 L669.67,362.56 L670.24,362.54 L670.81,362.53" stroke="#ff0000"/>
<path d="M680.52,362.30 L681.09,362.29 L681.66,362.27 L682.23,362.26 L682.80,362.25 L683.37,362.24 L683.95,362.22 L684.52,362.21" stroke="#ff0000"/>
<path d="M694.22,362.00 L694.80,361.98 L695.37,361.97 L695.94,361.96 L696.51,361.95 L697.08,361.94 L697.65,361.92 L698.22,361.91" stroke="#ff0000"/>
<path d="M117.00,29.30 L117.43,29.58 L117.85,29.86 L118.27,30.15 L118.69,30.44 L119.11,30.73 L119.52,31.02 L119.93,31.32 L120.34,31.62 L120.74,31.92 L121.13,32.24 L121.52,32.55 L121.91,32.88 L122.29,33.21 L122.66,33.54 L123.02,33.89 L123.38,34.24 L123.73,34.60 L124.07,34.97 L124.41,35.34 L124.74,35.72 L125.07,36.10 L125.39,36.49 L125.72,36.87 L126.04,37.26 L126.36,37.64 L126.68,38.03 L127.00,38.42 L127.32,38.81 L127.64,39.20 L127.96,39.59 L128.29,39.98 L128.61,40.36 L128.93,40.75 L129.26,41.13 L129.59,41.51 L129.92,41.89 L130.25,42.27 L130.58,42.65 L130.92,43.02 L131.25,43.40 L131.59,43.77 L131.92,44.15 L132.26,44.52 L132.60,44.90 L132.93,45.27 L133.27,45.64 L133.61,46.01 L133.95,46.39 L134.29,46.76 L134.63,47.13 L134.97,47.50 L135.32,47.87 L135.66,48.23 L136.01,48.60 L136.35,48.97 L136.71,49.33 L137.06,49.69 L137.42,50.04 L137.78,50.39 L138.14,50.74 L138.51,51.08 L138.88,51.42 L139.26,51.76 L139.63,52.09 L140.01,52.42 L140.40,52.74 L140.79,53.07 L141.18,53.39 L141.57,53.70 L141.97,54.02 L142.37,54.33 L142.77,54.63 L143.17,54.94 L143.58,55.23 L143.99,55.52 L144.41,55.81 L144.82,56.09 L145.24,56.37 L145.66,56.65 L146.08,56.92 L146.51,57.19 L146.94,57.45 L147.37,57.71 L147.80,57.97 L148.24,58.22 L148.68,58.48 L149.11,58.73 L149.55,58.98 L149.99,59.23 L150.43,59.47 L150.87,59.72 L151.31,59.96 L151.76,60.20 L152.20,60.43 L152.65,60.66 L153.10,60.88 L153.55,61.10 L154.01,61.31 L154.47,61.52 L154.93,61.72 L155.39,61.93 L155.85,62.13 L156.31,62.33 L156.78,62.52 L157.24,62.72 L157.70,62.92 L158.17,63.12 L158.63,63.31 L159.09,63.51 L159.55,63.71 L160.01,63.92 L160.47,64.12 L160.93,64.33 L161.39,64.53 L161.85,64.74 L162.31,64.95 L162.77,65.15 L163.23,65.36 L163.68,65.57 L164.14,65.78 L164.60,65.99 L165.05,66.21 L165.51,66.42 L165.96,66.64 L166.42,66.86 L166.87,67.08 L167.32,67.31 L167.76,67.54 L168.21,67.78 L168.65,68.03 L169.09,68.27 L169.52,68.52 L169.96,68.78 L170.39,69.04 L170.82,69.29 L171.25,69.56 L171.68,69.82 L172.11,70.08 L172.54,70.35 L172.97,70.62 L173.39,70.89 L173.82,71.16 L174.24,71.43 L174.66,71.70 L175.09,71.98 L175.50,72.26 L175.92,72.54 L176.34,72.82 L176.75,73.11 L177.17,73.39 L177.58,73.68 L177.99,73.98 L178.40,74.27 L178.80,74.57 L179.20,74.88 L179.59,75.19 L179.99,75.51 L180.38,75.83 L180.77,76.15 L181.15,76.47 L181.54,76.79 L181.92,77.11 L182.31,77.44 L182.69,77.77 L183.07,78.10 L183.44,78.43 L183.82,78.77 L184.19,79.10 L184.56,79.44 L184.93,79.79 L185.30,80.13 L185.67,80.48 L186.03,80.83 L186.39,81.19 L186.75,81.54 L187.10,81.90 L187.45,82.27 L187.80,82.63 L188.14,83.00 L188.48,83.38 L188.82,83.75 L189.15,84.13 L189.48,84.52 L189.80,84.90 L190.12,85.29 L190.43,85.69 L190.74,86.08 L191.05,86.49 L191.35,86.89 L191.64,87.30 L191.93,87.71 L192.22,88.13 L192.50,88.54 L192.78,88.96 L193.05,89.39 L193.33,89.81 L193.60,90.23 L193.87,90.65 L194.14,91.08 L194.42,91.50 L194.69,91.92 L194.96,92.34 L195.24,92.77 L195.52,93.18 L195.80,93.60 L196.08,94.02 L196.37,94.43 L196.65,94.85 L196.93,95.27 L197.22,95.68 L197.50,96.10 L197.78,96.51 L198.07,96.93 L198.35,97.35 L198.64,97.76 L198.92,98.17 L199.21,98.59 L199.50,99.00 L205.60,101.70 L205.65,102.20 L205.70,102.70 L205.74,103.19 L205.79,103.69 L205.84,104.19 L205.89,104.69 L205.93,105.19 L205.98,105.69 L206.03,106.18 L206.07,106.68 L206.12,107.18 L206.17,107.68 L206.22,108.18 L206.26,108.68 L206.31,109.17 L206.36,109.67 L206.41,110.17 L206.45,110.67 L206.50,111.17 L206.55,111.66 L206.59,112.16 L206.64,112.66 L206.69,113.16 L206.74,113.66 L206.78,114.16 L206.83,114.65 L206.88,115.15 L206.92,115.65 L206.97,116.15 L207.02,116.65 L207.07,117.15 L207.11,117.64 L207.16,118.14 L207.21,118.64 L207.25,119.14 L207.30,119.64 L207.35,120.14 L207.39,120.63 L207.44,121.13 L207.49,121.63 L207.53,122.13 L207.58,122.63 L207.63,123.13 L207.68,123.62 L207.72,124.12 L207.77,124.62 L207.82,125.12 L207.86,125.62 L207.91,126.12 L207.96,126.61 L208.00,127.11 L208.05,127.61 L208.10,128.11 L208.14,128.61 L208.19,129.11 L208.24,129.60 L208.28,130.10 L208.33,130.60 L208.38,131.10 L208.42,131.60 L208.47,132.10 L208.52,132.59 L208.56,133.09 L208.61,133.59 L208.66,134.09 L208.70,134.59 L208.75,135.09 L208.79,135.58 L208.84,136.08 L208.89,136.58 L208.93,137.08 L208.98,137.58 L209.03,138.08 L209.07,138.57 L209.12,139.07 L209.17,139.57 L209.21,140.07 L209.26,140.57 L209.31,141.07 L209.35,141.56 L209.40,142.06 L209.45,142.56 L209.49,143.06 L209.54,143.56 L209.58,144.06 L209.63,144.55 L209.68,145.05 L209.72,145.55 L209.77,146.05 L209.82,146.55 L209.86,147.05 L209.91,147.54 L209.96,148.04 L210.00,148.54 L210.05,149.04 L210.10,149.54 L210.14,150.04 L210.19,150.53 L210.23,151.03 L210.28,151.53 L210.33,152.03 L210.37,152.53 L210.42,153.03 L210.47,153.52 L210.51,154.02 L210.56,154.52 L210.61,155.02 L210.65,155.52 L210.70,156.02 L210.74,156.51 L210.79,157.01 L210.84,157.51 L210.88,158.01 L210.93,158.51 L210.98,159.01 L211.02,159.50 L211.07,160.00 L211.12,160.50 L211.16,161.00 L211.21,161.50 L211.25,162.00 L211.30,162.49 L211.35,162.99 L211.39,163.49 L211.44,163.99 L211.49,164.49 L211.53,164.99 L211.58,165.48 L211.63,165.98 L211.67,166.48 L211.72,166.98 L211.76,167.48 L211.81,167.98 L211.86,168.47 L211.90,168.97 L211.95,169.47 L212.00,169.97 L212.04,170.47 L212.09,170.97 L212.13,171.46 L212.18,171.96 L212.22,172.46 L212.27,172.96 L212.31,173.46 L212.36,173.96 L212.40,174.46 L212.44,174.95 L212.49,175.45 L212.53,175.95 L212.58,176.45 L212.62,176.95 L212.67,177.45 L212.71,177.94 L212.76,178.44 L212.80,178.94 L212.85,179.44 L212.89,179.94 L212.94,180.44 L212.99,180.94 L213.04,181.43 L213.09,181.93 L213.14,182.43 L213.19,182.93 L213.24,183.43 L213.29,183.92 L213.34,184.42 L213.40,184.92 L213.45,185.42 L213.50,185.91 L213.56,186.41 L213.61,186.91 L213.67,187.41 L213.72,187.90 L213.78,188.40 L213.84,188.90 L213.89,189.40 L213.95,189.89 L214.01,190.39 L214.07,190.89 L214.12,191.38 L214.18,191.88 L214.24,192.38 L214.30,192.87 L214.36,193.37 L214.42,193.87 L214.48,194.37 L214.54,194.86 L214.60,195.36 L214.67,195.86 L214.73,196.35 L214.79,196.85 L214.85,197.35 L214.91,197.84 L214.97,198.34 L215.04,198.84 L215.10,199.33 L215.16,199.83 L215.22,200.33 L215.29,200.82 L215.35,201.32 L215.41,201.82 L215.47,202.31 L215.54,202.81 L215.60,203.31 L215.66,203.80 L215.73,204.30 L215.79,204.80 L215.85,205.29 L215.91,205.79 L215.98,206.29 L216.04,206.78 L216.11,207.28 L216.17,207.77 L216.23,208.27 L216.30,208.77 L216.36,209.26 L216.43,209.76 L216.49,210.26 L216.56,210.75 L216.62,211.25 L216.69,211.74 L216.76,212.24 L216.82,212.74 L216.89,213.23 L216.95,213.73 L217.02,214.22 L217.09,214.72 L217.15,215.22 L217.22,215.71 L217.29,216.21 L217.35,216.70 L217.42,217.20 L217.49,217.70 L217.56,218.19 L217.62,218.69 L217.69,219.18 L217.76,219.68 L217.82,220.18 L217.89,220.67 L217.96,221.17 L218.03,221.66 L218.10,222.16 L218.16,222.66 L218.23,223.15 L218.30,223.65 L218.37,224.14 L218.44,224.64 L218.50,225.14 L218.57,225.63 L218.64,226.13 L218.71,226.62 L218.78,227.12 L218.84,227.61 L218.91,228.11 L218.98,228.61 L219.05,229.10 L219.12,229.60 L219.19,230.09 L219.25,230.59 L219.32,231.09 L219.39,231.58 L219.46,232.08 L219.53,232.57 L219.60,233.07 L219.67,233.56 L219.74,234.06 L219.81,234.55 L219.88,235.05 L219.95,235.55 L220.03,236.04 L220.10,236.54 L220.17,237.03 L220.24,237.53 L220.32,238.02 L220.39,238.52 L220.46,239.01 L220.54,239.51 L220.61,240.00 L220.69,240.49 L220.76,240.99 L220.84,241.48 L220.91,241.98 L220.99,242.47 L221.07,242.97 L221.14,243.46 L221.22,243.96 L221.30,244.45 L221.38,244.95 L221.46,245.44 L221.54,245.93 L221.62,246.43 L221.70,246.92 L221.78,247.42 L221.86,247.91 L221.94,248.40 L222.02,248.90 L222.11,249.39 L222.19,249.89 L222.27,250.38 L222.36,250.87 L222.44,251.37 L222.52,251.86 L222.61,252.35 L222.70,252.85 L222.79,253.34 L222.88,253.83 L222.98,254.32 L223.08,254.81 L223.18,255.30 L223.28,255.79 L223.39,256.28 L223.50,256.77 L223.61,257.26 L223.72,257.74 L223.84,258.23 L223.96,258.72 L224.07,259.20 L224.19,259.69 L224.32,260.17 L224.44,260.66 L224.56,261.14 L224.69,261.63 L224.82,262.11 L224.94,262.60 L225.07,263.08 L225.20,263.56 L225.33,264.05 L225.46,264.53 L225.59,265.02 L225.72,265.50 L225.86,265.98 L225.99,266.47 L226.12,266.95 L226.25,267.44 L226.38,267.92 L226.51,268.40 L226.64,268.89 L226.77,269.37 L226.91,269.85 L227.04,270.33 L227.18,270.82 L227.32,271.30 L227.46,271.78 L227.60,272.26 L227.75,272.73 L227.89,273.21 L228.04,273.69 L228.19,274.17 L228.34,274.64 L228.49,275.12 L228.65,275.60 L228.81,276.07 L228.97,276.54 L229.13,277.02 L229.29,277.49 L229.46,277.96 L229.62,278.44 L229.80,278.91 L229.97,279.38 L230.14,279.85 L230.32,280.32 L230.51,280.79 L230.70,281.25 L230.89,281.71 L231.09,282.17 L231.30,282.63 L231.50,283.08 L231.72,283.54 L231.93,283.99 L232.15,284.43 L232.38,284.88 L232.60,285.33 L232.83,285.77 L233.07,286.21 L233.30,286.65 L233.54,287.10 L233.78,287.54 L234.02,287.98 L234.26,288.42 L234.50,288.86 L234.75,289.29 L235.00,289.73 L235.24,290.17 L235.49,290.61 L235.74,291.05 L235.99,291.48 L236.25,291.91 L236.50,292.34 L236.76,292.77 L237.03,293.19 L237.29,293.61 L237.56,294.03 L237.83,294.45 L238.11,294.86 L238.39,295.28 L238.67,295.69 L238.95,296.10 L239.24,296.51 L239.54,296.91 L239.83,297.32 L240.13,297.72 L240.44,298.12 L240.75,298.52 L241.06,298.92 L241.38,299.32 L241.70,299.71 L242.03,300.10 L242.36,300.47 L242.70,300.85 L243.04,301.21 L243.38,301.58 L243.73,301.93 L244.09,302.28 L244.45,302.63 L244.81,302.97 L245.18,303.30 L245.56,303.63 L245.94,303.96 L246.32,304.28 L246.71,304.59 L247.11,304.90 L247.50,305.21 L247.91,305.51 L248.32,305.81 L248.73,306.10 L249.15,306.39 L249.57,306.68 L249.99,306.96 L250.42,307.24 L250.84,307.51 L251.27,307.78 L251.70,308.04 L252.13,308.29 L252.56,308.54 L253.00,308.79 L253.43,309.03 L253.87,309.27 L254.31,309.50 L254.75,309.73 L255.20,309.95 L255.64,310.17 L256.09,310.39 L256.54,310.60 L257.00,310.81 L257.45,311.02 L257.91,311.22 L258.38,311.42 L258.84,311.61 L259.31,311.80 L259.78,311.99 L260.25,312.18 L260.72,312.36 L261.19,312.55 L261.66,312.72 L262.13,312.90 L262.60,313.07 L263.07,313.24 L263.54,313.41 L264.02,313.57 L264.49,313.73 L264.96,313.88 L265.44,314.03 L265.92,314.18 L266.39,314.32 L266.87,314.46 L267.36,314.59 L267.84,314.72 L268.32,314.84 L268.81,314.96 L269.30,315.07 L269.79,315.18 L270.29,315.28 L270.78,315.37 L271.28,315.47 L271.77,315.56 L272.27,315.65 L272.76,315.73 L273.26,315.81 L273.75,315.89 L274.25,315.96 L274.75,316.04 L275.24,316.10 L275.74,316.17 L276.24,316.23 L276.73,316.29 L277.23,316.34 L277.73,316.39 L278.22,316.44 L278.72,316.49 L279.22,316.53 L279.72,316.56 L280.22,316.60 L280.72,316.63 L281.22,316.65 L281.71,316.68 L282.21,316.69 L282.71,316.71 L283.22,316.72 L283.72,316.74 L284.22,316.75 L284.72,316.76 L285.22,316.78 L285.72,316.79 L286.22,316.80 L286.72,316.80 L287.22,316.81 L287.72,316.81 L288.22,316.82 L288.72,316.82 L289.23,316.81 L289.73,316.81 L290.23,316.80 L290.73,316.79 L291.23,316.78 L291.73,316.76 L292.23,316.74 L292.73,316.72 L293.23,316.69 L293.73,316.66 L294.23,316.62 L294.73,316.58 L295.22,316.54 L295.72,316.50 L296.22,316.46 L296.72,316.42 L297.22,316.38 L297.72,316.33 L298.22,316.29 L298.72,316.25 L299.21,316.20 L299.71,316.16 L300.21,316.11 L300.71,316.07 L301.21,316.02 L301.71,315.97 L302.20,315.93 L302.70,315.88 L303.20,315.83 L303.70,315.78 L304.20,315.73 L304.70,315.68 L305.19,315.63 L305.69,315.58 L306.19,315.53 L306.69,315.48 L307.19,315.43 L307.68,315.38 L308.18,315.33 L308.68,315.28 L309.18,315.23 L309.68,315.18 L310.17,315.13 L310.67,315.08 L311.17,315.03 L311.67,314.98 L312.17,314.93 L312.66,314.88 L313.16,314.83 L313.66,314.77 L314.16,314.72 L314.65,314.67 L315.15,314.61 L315.65,314.55 L316.15,314.50 L316.64,314.44 L317.14,314.38 L317.64,314.32 L318.13,314.25 L318.63,314.19 L319.13,314.12 L319.62,314.05 L320.12,313.98 L320.61,313.91 L321.11,313.84 L321.60,313.77 L322.10,313.69 L322.59,313.62 L323.09,313.55 L323.58,313.47 L324.08,313.40 L324.57,313.32 L325.07,313.25 L325.56,313.17 L326.06,313.09 L326.55,313.02 L327.05,312.94 L327.54,312.87 L328.04,312.79 L328.53,312.71 L329.02,312.63 L329.52,312.56 L330.01,312.48 L330.51,312.40 L331.00,312.33 L331.50,312.25 L331.99,312.17 L332.49,312.09 L332.98,312.02 L333.47,311.94 L333.97,311.86 L334.46,311.78 L334.96,311.71 L335.45,311.63 L335.95,311.55 L336.44,311.48 L336.94,311.40 L337.43,311.33 L337.93,311.26 L338.42,311.18 L338.92,311.11 L339.41,311.04 L339.91,310.96 L340.40,310.89 L340.90,310.82 L341.39,310.75 L341.89,310.67 L342.38,310.60 L342.88,310.52 L343.37,310.45 L343.87,310.37 L344.36,310.29 L344.86,310.22 L345.35,310.14 L345.85,310.06 L346.34,309.97 L346.83,309.89 L347.33,309.81 L347.82,309.72 L348.31,309.63 L348.80,309.54 L349.30,309.45 L349.79,309.36 L350.28,309.26 L350.77,309.17 L351.26,309.07 L351.75,308.97 L352.25,308.88 L352.74,308.78 L353.23,308.68 L353.72,308.58 L354.21,308.47 L354.70,308.37 L355.19,308.27 L355.68,308.17 L356.17,308.06 L356.66,307.96 L357.15,307.85 L357.63,307.75 L358.12,307.64 L358.61,307.54 L359.10,307.43 L359.59,307.32 L360.08,307.22 L360.57,307.11 L361.06,307.00 L361.55,306.89 L362.03,306.78 L362.52,306.67 L363.01,306.56 L363.50,306.45 L363.99,306.34 L364.48,306.23 L364.96,306.12 L365.45,306.01 L365.94,305.90 L366.43,305.79 L366.92,305.68 L367.40,305.57 L367.89,305.46 L368.38,305.35 L368.87,305.24 L369.36,305.13 L369.84,305.01 L370.33,304.90 L370.82,304.79 L371.31,304.68 L371.80,304.57 L372.28,304.46 L372.77,304.35 L373.26,304.24 L373.75,304.13 L374.24,304.02 L374.73,303.91 L375.21,303.80 L375.70,303.69 L376.19,303.58 L376.68,303.47 L377.17,303.36 L377.66,303.26 L378.15,303.15 L378.63,303.04 L379.12,302.93 L379.61,302.83 L380.10,302.72 L380.59,302.62 L381.08,302.51 L381.57,302.40 L382.06,302.30 L382.55,302.19 L383.04,302.09 L383.53,301.98 L384.02,301.88 L384.50,301.77 L384.99,301.67 L385.48,301.56 L385.97,301.45 L386.46,301.35 L386.95,301.24 L387.44,301.14 L387.93,301.03 L388.42,300.93 L388.91,300.82 L389.40,300.72 L389.89,300.61 L390.38,300.51 L390.86,300.40 L391.35,300.29 L391.84,300.19 L392.33,300.08 L392.82,299.98 L393.31,299.87 L393.80,299.77 L394.29,299.66 L394.78,299.56 L395.27,299.45 L395.76,299.35 L396.25,299.24 L396.74,299.13 L397.23,299.03 L397.71,298.92 L398.20,298.82 L398.69,298.71 L399.18,298.61 L399.67,298.50 L400.16,298.40 L400.65,298.29 L401.14,298.19 L401.63,298.08 L402.12,297.98 L402.61,297.87 L403.10,297.77 L403.59,297.66 L404.08,297.56 L404.56,297.45 L405.05,297.35 L405.54,297.24 L406.03,297.14 L406.52,297.03 L407.01,296.93 L407.50,296.82 L407.99,296.72 L408.48,296.61 L408.97,296.51 L409.46,296.40 L409.95,296.30 L410.44,296.19 L410.93,296.09 L411.42,295.98 L411.91,295.88 L412.40,295.77 L412.88,295.67 L413.37,295.57 L413.86,295.46 L414.35,295.36 L414.84,295.25 L415.33,295.15 L415.82,295.05 L416.31,294.94 L416.80,294.84 L417.29,294.74 L417.78,294.64 L418.27,294.53 L418.76,294.43 L419.25,294.33 L419.74,294.23 L420.23,294.12 L420.72,294.02 L421.21,293.92 L421.70,293.82 L422.19,293.72 L422.68,293.62 L423.17,293.51 L423.66,293.41 L424.15,293.31 L424.64,293.21 L425.13,293.11 L425.62,293.01 L426.11,292.91 L426.60,292.81 L427.09,292.71 L427.58,292.61 L428.07,292.51 L428.56,292.41 L429.06,292.31 L429.55,292.21 L430.04,292.11 L430.53,292.01 L431.02,291.91 L431.51,291.81 L432.00,291.71 L432.49,291.61 L432.98,291.51 L433.47,291.41 L433.96,291.31 L434.45,291.21 L434.94,291.11 L435.43,291.02 L435.92,290.92 L436.41,290.82 L436.90,290.72 L437.40,290.62 L437.89,290.52 L438.38,290.42 L438.87,290.33 L439.36,290.23 L439.85,290.13 L440.34,290.03 L440.83,289.93 L441.32,289.84 L441.81,289.74 L442.30,289.65 L442.80,289.56 L443.29,289.47 L443.78,289.38 L444.27,289.29 L444.77,289.20 L445.26,289.12 L445.75,289.03 L446.25,288.95 L446.74,288.86 L447.23,288.78 L447.73,288.70 L448.22,288.61 L448.71,288.53 L449.21,288.45 L449.70,288.37 L450.20,288.29 L450.69,288.21 L451.18,288.13 L451.68,288.05 L452.17,287.97 L452.67,287.88 L453.16,287.80 L453.65,287.72 L454.15,287.64 L454.64,287.56 L455.14,287.47 L455.63,287.39 L456.12,287.30 L456.61,287.22 L457.11,287.13 L457.60,287.04 L458.09,286.95 L458.59,286.86 L459.08,286.77 L459.57,286.68 L460.06,286.59 L460.55,286.49 L461.04,286.39 L461.53,286.29 L462.02,286.19 L462.51,286.09 L463.00,285.98 L463.49,285.87 L463.98,285.76 L464.47,285.66 L464.96,285.55 L465.45,285.44 L465.93,285.33 L466.42,285.22 L466.91,285.12 L467.40,285.01 L467.89,284.91 L468.38,284.81 L468.87,284.71 L469.36,284.62 L469.86,284.53 L470.35,284.44 L470.84,284.35 L471.33,284.26 L471.83,284.17 L472.32,284.08 L472.81,283.99 L473.30,283.91 L473.80,283.82 L474.29,283.73 L474.78,283.64 L475.28,283.56 L475.77,283.47 L476.26,283.38 L476.75,283.30 L477.25,283.21 L477.74,283.12 L478.23,283.04 L478.73,282.95 L479.22,282.87 L479.71,282.78 L480.21,282.69 L480.70,282.61 L481.19,282.52 L481.69,282.44 L482.18,282.35 L482.67,282.27 L483.16,282.18 L483.66,282.09 L484.15,282.01 L484.64,281.92 L485.14,281.84 L485.63,281.75 L486.12,281.67 L486.62,281.58 L487.11,281.50 L487.60,281.41 L488.10,281.33 L488.59,281.24 L489.08,281.15 L489.58,281.07 L490.07,280.98 L490.56,280.90 L491.06,280.81 L491.55,280.73 L492.04,280.64 L492.53,280.55 L493.03,280.47 L493.52,280.38 L494.01,280.30 L494.51,280.21 L495.00,280.12 L495.49,280.04 L495.99,279.95 L496.48,279.86 L496.97,279.78 L497.46,279.69 L497.96,279.60 L498.45,279.51 L498.94,279.43 L499.43,279.34 L499.93,279.25 L500.42,279.16 L500.91,279.07 L501.40,278.98 L501.90,278.89 L502.39,278.81 L502.88,278.72 L503.37,278.63 L503.87,278.54 L504.36,278.45 L504.85,278.36 L505.34,278.27 L505.84,278.18 L506.33,278.09 L506.82,278.00 L507.31,277.91 L507.81,277.82 L508.30,277.73 L508.79,277.64 L509.28,277.55 L509.78,277.46 L510.27,277.37 L510.76,277.28 L511.25,277.19 L511.74,277.10 L512.24,277.01 L512.73,276.92 L513.22,276.83 L513.71,276.74 L514.21,276.65 L514.70,276.56 L515.19,276.47 L515.68,276.38 L516.18,276.29 L516.67,276.20 L517.16,276.11 L517.65,276.02 L518.14,275.92 L518.64,275.83 L519.13,275.74 L519.62,275.65 L520.11,275.56 L520.61,275.47 L521.10,275.38 L521.59,275.29 L522.08,275.20 L522.57,275.11 L523.07,275.02 L523.56,274.93 L524.05,274.84 L524.54,274.75 L525.04,274.66 L525.53,274.57 L526.02,274.48 L526.51,274.39 L527.01,274.30 L527.50,274.21 L527.99,274.12 L528.48,274.03 L528.98,273.94 L529.47,273.85 L529.96,273.76 L530.45,273.67 L530.95,273.58 L531.44,273.49 L531.93,273.41 L532.42,273.32 L532.92,273.23 L533.41,273.14 L533.90,273.05 L534.39,272.96 L534.89,272.87 L535.38,272.79 L535.87,272.70 L536.36,272.61 L536.86,272.52 L537.35,272.43 L537.84,272.35 L538.34,272.26 L538.83,272.17 L539.32,272.08 L539.81,272.00 L540.31,271.91 L540.80,271.82 L541.29,271.73 L541.79,271.65 L542.28,271.56 L542.77,271.47 L543.27,271.39 L543.76,271.30 L544.25,271.22 L544.74,271.13 L545.24,271.04 L545.73,270.96 L546.22,270.87 L546.72,270.79 L547.21,270.70 L547.70,270.62 L548.20,270.54 L548.69,270.45 L549.19,270.37 L549.68,270.29 L550.17,270.20 L550.67,270.12 L551.16,270.04 L551.65,269.96 L552.15,269.88 L552.64,269.79 L553.14,269.71 L553.63,269.63 L554.12,269.55 L554.62,269.47 L555.11,269.40 L555.61,269.32 L556.10,269.24 L556.60,269.16 L557.09,269.08 L557.59,269.01 L558.08,268.93 L558.57,268.85 L559.07,268.78 L559.56,268.70 L560.06,268.63 L560.55,268.55 L561.05,268.48 L561.54,268.41 L562.04,268.33 L562.53,268.26 L563.03,268.19 L563.53,268.12 L564.02,268.05 L564.52,267.98 L565.01,267.91 L565.51,267.84 L566.00,267.77 L566.50,267.71 L567.00,267.64 L567.49,267.57 L567.99,267.51 L568.48,267.44 L568.98,267.38 L569.48,267.32 L569.97,267.25 L570.47,267.19 L570.97,267.13 L571.46,267.07 L571.96,267.01 L572.46,266.95 L572.95,266.88 L573.45,266.82 L573.95,266.76 L574.44,266.70 L574.94,266.64 L575.44,266.58 L575.94,266.52 L576.43,266.46 L576.93,266.40 L577.43,266.34 L577.92,266.28 L578.42,266.22 L578.92,266.16 L579.41,266.10 L579.91,266.04 L580.41,265.98 L580.90,265.93 L581.40,265.87 L581.90,265.81 L582.40,265.75 L582.89,265.69 L583.39,265.63 L583.89,265.57 L584.38,265.51 L584.88,265.45 L585.38,265.39 L585.87,265.33 L586.37,265.28 L586.87,265.22 L587.37,265.16 L587.86,265.10 L588.36,265.04 L588.86,264.98 L589.35,264.92 L589.85,264.86 L590.35,264.80 L590.84,264.74 L591.34,264.68 L591.84,264.62 L592.34,264.57 L592.83,264.51 L593.33,264.45 L593.83,264.39 L594.32,264.33 L594.82,264.27 L595.32,264.21 L595.81,264.14 L596.31,264.08 L596.81,264.02 L597.30,263.96 L597.80,263.90 L598.30,263.84 L598.79,263.78 L599.29,263.72 L599.79,263.66 L600.28,263.60 L600.78,263.54 L601.28,263.48 L601.77,263.41 L602.27,263.35 L602.77,263.29 L603.27,263.23 L603.76,263.17 L604.26,263.11 L604.76,263.05 L605.25,262.99 L605.75,262.93 L606.25,262.86 L606.74,262.80 L607.24,262.74 L607.74,262.68 L608.23,262.62 L608.73,262.56 L609.23,262.50 L609.72,262.43 L610.22,262.37 L610.72,262.31 L611.21,262.25 L611.71,262.19 L612.21,262.12 L612.70,262.06 L613.20,262.00 L613.69,261.93 L614.19,261.87 L614.69,261.80 L615.18,261.74 L615.68,261.67 L616.18,261.61 L616.67,261.54 L617.17,261.48 L617.66,261.41 L618.16,261.35 L618.66,261.28 L619.15,261.21 L619.65,261.15 L620.14,261.08 L620.64,261.01 L621.14,260.95 L621.63,260.88 L622.13,260.81 L622.62,260.74 L623.12,260.67 L623.62,260.61 L624.11,260.54 L624.61,260.47 L625.10,260.40 L625.60,260.33 L626.10,260.27 L626.59,260.20 L627.09,260.13 L627.58,260.06 L628.08,259.99 L628.57,259.93 L629.07,259.86 L629.57,259.79 L630.06,259.72 L630.56,259.65 L631.05,259.58 L631.55,259.52 L632.04,259.45 L632.54,259.38 L633.04,259.31 L633.53,259.24 L634.03,259.18 L634.52,259.11 L635.02,259.04 L635.52,258.97 L636.01,258.91 L636.51,258.84 L637.00,258.77 L637.50,258.71 L638.00,258.64 L638.49,258.57 L638.99,258.51 L639.48,258.44 L639.98,258.37 L640.48,258.31 L640.97,258.24 L641.47,258.18 L641.97,258.11 L642.46,258.05 L642.96,257.99 L643.46,257.92 L643.95,257.86 L644.45,257.80 L644.95,257.73 L645.44,257.67 L645.94,257.61 L646.44,257.55 L646.93,257.49 L647.43,257.42 L647.93,257.37 L648.42,257.31 L648.92,257.25 L649.42,257.19 L649.91,257.13 L650.41,257.07 L650.91,257.02 L651.41,256.96 L651.90,256.91 L652.40,256.85 L652.90,256.80 L653.40,256.74 L653.89,256.69 L654.39,256.63 L654.89,256.58 L655.39,256.53 L655.89,256.48 L656.38,256.42 L656.88,256.37 L657.38,256.32 L657.88,256.27 L658.37,256.22 L658.87,256.17 L659.37,256.12 L659.87,256.07 L660.37,256.03 L660.87,255.98 L661.36,255.93 L661.86,255.88 L662.36,255.83 L662.86,255.79 L663.36,255.74 L663.86,255.69 L664.35,255.65 L664.85,255.60 L665.35,255.56 L665.85,255.51 L666.35,255.47 L666.85,255.42 L667.34,255.38 L667.84,255.33 L668.34,255.29 L668.84,255.25 L669.34,255.20 L669.84,255.16 L670.34,255.12 L670.84,255.08 L671.33,255.03 L671.83,254.99 L672.33,254.95 L672.83,254.91 L673.33,254.86 L673.83,254.82 L674.33,254.78 L674.83,254.74 L675.32,254.70 L675.82,254.66 L676.32,254.62 L676.82,254.58 L677.32,254.54 L677.82,254.50 L678.32,254.46 L678.82,254.42 L679.32,254.39 L679.82,254.35 L680.31,254.31 L680.81,254.28 L681.31,254.24 L681.81,254.20 L682.31,254.17 L682.81,254.13 L683.31,254.10 L683.81,254.06 L684.31,254.03 L684.81,254.00 L685.31,253.96 L685.81,253.93 L686.31,253.90 L686.80,253.87 L687.30,253.83 L687.80,253.80 L688.30,253.77 L688.80,253.74 L689.30,253.71 L689.80,253.68 L690.30,253.65 L690.80,253.62 L691.30,253.59 L691.80,253.56 L692.30,253.54 L692.80,253.51 L693.30,253.48 L693.80,253.45 L694.30,253.43 L694.80,253.40 L695.30,253.37 L695.80,253.35 L696.30,253.32 L696.80,253.30 L697.30,253.27 L697.80,253.25 L698.30,253.22 L698.80,253.20" stroke="#000000"/>
<path d="M158.20,383.50 L158.93,383.56 L159.67,383.60 L160.40,383.60" stroke="#000000"/>
<path d="M171.30,380.40 L171.82,380.14 L172.35,379.88 L172.87,379.61 L173.40,379.34 L173.92,379.06 L174.44,378.78 L174.97,378.49 L175.49,378.20 L176.01,377.90 L176.54,377.59 L177.06,377.28 L177.59,376.97 L178.11,376.65 L178.63,376.33 L179.16,376.00 L179.68,375.66 L180.20,375.32 L180.73,374.98 L181.25,374.63 L181.78,374.28 L182.30,373.93" stroke="#000000"/>
<path d="M189.00,368.65 L189.60,368.03 L190.20,367.35 L190.80,366.63 L191.40,365.83 L192.00,364.97" stroke="#000000"/>
<path d="M197.00,357.10 L197.55,356.37 L198.11,355.65 L198.66,354.94 L199.21,354.26 L199.76,353.97 L200.32,354.53 L200.87,355.07 L201.42,355.59 L201.98,356.09 L202.53,356.57 L203.08,357.01 L203.64,357.43 L204.19,357.81 L204.74,358.16 L205.29,358.47 L205.85,358.75 L206.40,359.00" stroke="#000000"/>
<path d="M215.10,362.27 L215.69,362.48 L216.28,362.68 L216.86,362.88 L217.45,363.08 L218.04,363.28 L218.62,363.49 L219.21,363.69 L219.80,363.90" stroke="#000000"/>
<path d="M228.50,366.60 L229.03,366.72 L229.55,366.82 L230.08,366.92 L230.60,367.01 L231.13,367.09 L231.66,367.15 L232.18,367.22 L232.71,367.27 L233.23,367.32 L233.76,367.36 L234.29,367.39 L234.81,367.42 L235.34,367.45 L235.87,367.46 L236.39,367.48 L236.92,367.49 L237.44,367.50 L237.97,367.50 L238.50,367.51 L239.02,367.51 L239.55,367.50 L240.07,367.50 L240.60,367.50" stroke="#000000"/>
<path d="M250.30,367.36 L250.93,367.34 L251.57,367.32 L252.20,367.29 L252.83,367.27 L253.47,367.24 L254.10,367.22" stroke="#000000"/>
<path d="M263.88,366.71 L264.41,366.67 L264.93,366.62 L265.46,366.58 L265.98,366.53 L266.51,366.49 L267.04,366.44 L267.56,366.39 L268.09,366.34 L268.61,366.28 L269.14,366.23 L269.67,366.17 L270.19,366.12 L270.72,366.06 L271.25,366.00 L271.77,365.94 L272.30,365.88 L272.82,365.82 L273.35,365.76 L273.88,365.70 L274.40,365.63 L274.93,365.57 L275.45,365.51 L275.98,365.44" stroke="#000000"/>
<path d="M285.68,364.09 L286.31,364.00 L286.95,363.93 L287.58,363.85 L288.21,363.78 L288.85,363.71 L289.48,363.64" stroke="#000000"/>
<path d="M299.26,362.60 L299.79,362.54 L300.31,362.48 L300.84,362.42 L301.36,362.36 L301.89,362.30 L302.42,362.24 L302.94,362.18 L303.47,362.12 L303.99,362.06 L304.52,361.99 L305.05,361.93 L305.57,361.87 L306.10,361.81 L306.63,361.75 L307.15,361.69 L307.68,361.63 L308.20,361.56 L308.73,361.50 L309.26,361.44 L309.78,361.38 L310.31,361.32 L310.83,361.25 L311.36,361.19" stroke="#000000"/>
<path d="M321.06,360.04 L321.69,359.96 L322.33,359.88 L322.96,359.80 L323.59,359.73 L324.23,359.65 L324.86,359.57" stroke="#000000"/>
<path d="M334.64,358.16 L335.17,358.08 L335.69,358.00 L336.22,357.92 L336.74,357.84 L337.27,357.75 L337.80,357.67 L338.32,357.59 L338.85,357.51 L339.37,357.42 L339.90,357.34 L340.43,357.26 L340.95,357.17 L341.48,357.09 L342.01,357.01 L342.53,356.92 L343.06,356.84 L343.58,356.76 L344.11,356.67 L344.64,356.59 L345.16,356.51 L345.69,356.43 L346.21,356.34 L346.74,356.26" stroke="#000000"/>
<path d="M356.44,354.77 L357.07,354.67 L357.71,354.58 L358.34,354.49 L358.97,354.41 L359.61,354.33 L360.24,354.25" stroke="#000000"/>
<path d="M370.02,353.20 L370.55,353.14 L371.07,353.08 L371.60,353.02 L372.12,352.95 L372.65,352.89 L373.18,352.83 L373.70,352.77 L374.23,352.71 L374.75,352.65 L375.28,352.59 L375.81,352.52 L376.33,352.46 L376.86,352.40 L377.39,352.33 L377.91,352.27 L378.44,352.20 L378.96,352.14 L379.49,352.07 L380.02,352.01 L380.54,351.94 L381.07,351.87 L381.59,351.80 L382.12,351.73" stroke="#000000"/>
<path d="M391.82,350.06 L392.45,349.96 L393.09,349.86 L393.72,349.77 L394.35,349.68 L394.99,349.59 L395.62,349.50" stroke="#000000"/>
<path d="M405.40,348.16 L405.93,348.08 L406.45,348.01 L406.98,347.93 L407.50,347.86 L408.03,347.78 L408.56,347.70 L409.08,347.63 L409.61,347.55 L410.13,347.47 L410.66,347.40 L411.19,347.32 L411.71,347.24 L412.24,347.17 L412.77,347.09 L413.29,347.01 L413.82,346.94 L414.34,346.86 L414.87,346.78 L415.40,346.71 L415.92,346.63 L416.45,346.56 L416.97,346.49 L417.50,346.41" stroke="#000000"/>
<path d="M427.20,345.57 L427.83,345.50 L428.47,345.43 L429.10,345.35 L429.73,345.27 L430.37,345.18 L431.00,345.10" stroke="#000000"/>
<path d="M440.78,343.79 L441.31,343.72 L441.83,343.64 L442.36,343.57 L442.88,343.50 L443.41,343.43 L443.94,343.35 L444.46,343.28 L444.99,343.21 L445.51,343.13 L446.04,343.06 L446.57,342.99 L447.09,342.91 L447.62,342.84 L448.15,342.77 L448.67,342.69 L449.20,342.62 L449.72,342.55 L450.25,342.48 L450.78,342.40 L451.30,342.33 L451.83,342.26 L452.35,342.19 L452.88,342.12" stroke="#000000"/>
<path d="M462.58,340.98 L463.21,340.91 L463.85,340.84 L464.48,340.77 L465.11,340.70 L465.75,340.63 L466.38,340.57" stroke="#000000"/>
<path d="M476.16,339.56 L476.69,339.50 L477.21,339.43 L477.74,339.36 L478.26,339.30 L478.79,339.23 L479.32,339.16 L479.84,339.09 L480.37,339.01 L480.89,338.94 L481.42,338.87 L481.95,338.80 L482.47,338.72 L483.00,338.65 L483.53,338.58 L484.05,338.50 L484.58,338.43 L485.10,338.36 L485.63,338.29 L486.16,338.22 L486.68,338.15 L487.21,338.09 L487.73,338.02 L488.26,337.96" stroke="#000000"/>
<path d="M497.96,336.88 L498.59,336.82 L499.23,336.75 L499.86,336.68 L500.49,336.62 L501.13,336.56 L501.76,336.51" stroke="#000000"/>
<path d="M511.54,335.71 L512.07,335.64 L512.59,335.57 L513.12,335.50 L513.64,335.41 L514.17,335.32 L514.70,335.22 L515.22,335.12 L515.75,335.02 L516.27,334.92 L516.80,334.82 L517.33,334.72 L517.85,334.63 L518.38,334.54 L518.91,334.45 L519.43,334.38 L519.96,334.31 L520.48,334.24 L521.01,334.18 L521.54,334.11 L522.06,334.05 L522.59,333.99 L523.11,333.93 L523.64,333.87" stroke="#000000"/>
<path d="M533.34,332.91 L533.97,332.86 L534.61,332.81 L535.24,332.76 L535.87,332.70 L536.51,332.65 L537.14,332.60" stroke="#000000"/>
<path d="M546.92,331.73 L547.45,331.68 L547.97,331.63 L548.50,331.58 L549.02,331.52 L549.55,331.47 L550.08,331.42 L550.60,331.37 L551.13,331.31 L551.65,331.26 L552.18,331.21 L552.71,331.16 L553.23,331.11 L553.76,331.06 L554.29,331.01 L554.81,330.96 L555.34,330.91 L555.86,330.86 L556.39,330.81 L556.92,330.76 L557.44,330.71 L557.97,330.67 L558.49,330.62 L559.02,330.57" stroke="#000000"/>
<path d="M568.72,329.74 L569.35,329.69 L569.99,329.63 L570.62,329.58 L571.25,329.53 L571.89,329.48 L572.52,329.42" stroke="#000000"/>
<path d="M582.30,328.61 L582.83,328.56 L583.35,328.51 L583.88,328.46 L584.40,328.40 L584.93,328.34 L585.46,328.29 L585.98,328.23 L586.51,328.17 L587.03,328.11 L587.56,328.06 L588.09,328.00 L588.61,327.94 L589.14,327.88 L589.67,327.83 L590.19,327.78 L590.72,327.72 L591.24,327.67 L591.77,327.63 L592.30,327.58 L592.82,327.54 L593.35,327.50 L593.87,327.46 L594.40,327.42" stroke="#000000"/>
<path d="M604.10,326.78 L604.73,326.73 L605.37,326.69 L606.00,326.64 L606.63,326.60 L607.27,326.55 L607.90,326.51" stroke="#000000"/>
<path d="M617.68,325.80 L618.21,325.76 L618.73,325.72 L619.26,325.67 L619.78,325.63 L620.31,325.58 L620.84,325.54 L621.36,325.49 L621.89,325.44 L622.41,325.40 L622.94,325.35 L623.47,325.31 L623.99,325.26 L624.52,325.22 L625.05,325.17 L625.57,325.13 L626.10,325.08 L626.62,325.04 L627.15,325.00 L627.68,324.96 L628.20,324.92 L628.73,324.88 L629.25,324.85 L629.78,324.81" stroke="#000000"/>
<path d="M639.48,324.16 L640.11,324.11 L640.75,324.07 L641.38,324.03 L642.01,323.98 L642.65,323.94 L643.28,323.89" stroke="#000000"/>
<path d="M653.06,323.18 L653.59,323.13 L654.11,323.08 L654.64,323.03 L655.16,322.97 L655.69,322.92 L656.22,322.86 L656.74,322.81 L657.27,322.75 L657.79,322.70 L658.32,322.65 L658.85,322.60 L659.37,322.55 L659.90,322.51 L660.43,322.47 L660.95,322.43 L661.48,322.39 L662.00,322.35 L662.53,322.31 L663.06,322.27 L663.58,322.23 L664.11,322.19 L664.63,322.15 L665.16,322.12" stroke="#000000"/>
<path d="M674.86,321.52 L675.49,321.49 L676.13,321.45 L676.76,321.42 L677.39,321.39 L678.03,321.36 L678.66,321.33" stroke="#000000"/>
<path d="M688.44,320.92 L688.99,320.90 L689.53,320.88 L690.08,320.86 L690.62,320.84 L691.17,320.82 L691.71,320.81 L692.26,320.79 L692.80,320.77 L693.35,320.75 L693.89,320.74 L694.44,320.72 L694.98,320.71 L695.53,320.69 L696.07,320.67 L696.62,320.66 L697.16,320.64 L697.71,320.63 L698.25,320.61 L698.80,320.60" stroke="#000000"/>
</g>
<rect x="100.0" y="18.45" width="610.0" height="377.0" fill="none" stroke="#505050" stroke-width="1"/>
<g stroke="#404040" stroke-width="0.9" fill="none">
<path d="M127.86,395.45 v-4.4 M127.86,18.45 v4.4"/>
<path d="M158.25,395.45 v-4.4 M158.25,18.45 v4.4"/>
<path d="M188.63,395.45 v-4.4 M188.63,18.45 v4.4"/>
<path d="M219.02,395.45 v-4.4 M219.02,18.45 v4.4"/>
<path d="M249.40,395.45 v-7.4 M249.40,18.45 v7.4"/>
<path d="M279.79,395.45 v-4.4 M279.79,18.45 v4.4"/>
<path d="M310.17,395.45 v-4.4 M310.17,18.45 v4.4"/>
<path d="M340.56,395.45 v-4.4 M340.56,18.45 v4.4"/>
<path d="M370.94,395.45 v-4.4 M370.94,18.45 v4.4"/>
<path d="M401.33,395.45 v-7.4 M401.33,18.45 v7.4"/>
<path d="M431.71,395.45 v-4.4 M431.71,18.45 v4.4"/>
<path d="M462.10,395.45 v-4.4 M462.10,18.45 v4.4"/>
<path d="M492.48,395.45 v-4.4 M492.48,18.45 v4.4"/>
<path d="M522.87,395.45 v-4.4 M522.87,18.45 v4.4"/>
<path d="M553.25,395.45 v-7.4 M553.25,18.45 v7.4"/>
<path d="M583.63,395.45 v-4.4 M583.63,18.45 v4.4"/>
<path d="M614.02,395.45 v-4.4 M614.02,18.45 v4.4"/>
<path d="M644.40,395.45 v-4.4 M644.40,18.45 v4.4"/>
<path d="M674.79,395.45 v-4.4 M674.79,18.45 v4.4"/>
<path d="M705.18,395.45 v-7.4 M705.18,18.45 v7.4"/>
<path d="M100.0,383.45 h7.2 M710.0,383.45 h-7.2"/>
<path d="M100.0,365.75 h4.3 M710.0,365.75 h-4.3"/>
<path d="M100.0,348.04 h4.3 M710.0,348.04 h-4.3"/>
<path d="M100.0,330.34 h4.3 M710.0,330.34 h-4.3"/>
<path d="M100.0,312.64 h7.2 M710.0,312.64 h-7.2"/>
<path d="M100.0,294.94 h4.3 M710.0,294.94 h-4.3"/>
<path d="M100.0,277.23 h4.3 M710.0,277.23 h-4.3"/>
<path d="M100.0,259.53 h4.3 M710.0,259.53 h-4.3"/>
<path d="M100.0,241.83 h7.2 M710.0,241.83 h-7.2"/>
<path d="M100.0,224.13 h4.3 M710.0,224.13 h-4.3"/>
<path d="M100.0,206.42 h4.3 M710.0,206.42 h-4.3"/>
<path d="M100.0,188.72 h4.3 M710.0,188.72 h-4.3"/>
<path d="M100.0,171.02 h7.2 M710.0,171.02 h-7.2"/>
<path d="M100.0,153.32 h4.3 M710.0,153.32 h-4.3"/>
<path d="M100.0,135.61 h4.3 M710.0,135.61 h-4.3"/>
<path d="M100.0,117.91 h4.3 M710.0,117.91 h-4.3"/>
<path d="M100.0,100.21 h7.2 M710.0,100.21 h-7.2"/>
<path d="M100.0,82.51 h4.3 M710.0,82.51 h-4.3"/>
<path d="M100.0,64.80 h4.3 M710.0,64.80 h-4.3"/>
<path d="M100.0,47.10 h4.3 M710.0,47.10 h-4.3"/>
<path d="M100.0,29.40 h7.2 M710.0,29.40 h-7.2"/>
</g>
<g font-family="Liberation Serif, serif" font-size="24.8" fill="#000">
<text transform="translate(249.80,428.4) scale(1,1.05)" text-anchor="middle">500</text>
<text transform="translate(401.73,428.4) scale(1,1.05)" text-anchor="middle">1000</text>
<text transform="translate(553.65,428.4) scale(1,1.05)" text-anchor="middle">1500</text>
<text transform="translate(705.58,428.4) scale(1,1.05)" text-anchor="middle">2000</text>
<text transform="translate(92.1,392.65) scale(1,1.05)" text-anchor="end">0.0</text>
<text transform="translate(92.1,321.84) scale(1,1.05)" text-anchor="end">0.2</text>
<text transform="translate(92.1,251.03) scale(1,1.05)" text-anchor="end">0.4</text>
<text transform="translate(92.1,180.22) scale(1,1.05)" text-anchor="end">0.6</text>
<text transform="translate(92.1,109.41) scale(1,1.05)" text-anchor="end">0.8</text>
<text transform="translate(92.1,38.60) scale(1,1.05)" text-anchor="end">1.0</text>
</g>
<g font-family="Liberation Serif, serif">
<text transform="translate(170.47,54.90) scale(0.2714,0.2580)" font-size="100.0" font-style="italic" fill="#2e2e2e" stroke="#fff" stroke-width="1.133">e</text>
<text transform="translate(184.93,54.30) scale(0.2831,0.2650)" font-size="100.0" font-style="italic" fill="#2e2e2e" stroke="#fff" stroke-width="1.825">j</text>
<text transform="translate(197.15,54.30) scale(0.3136,0.2650)" font-size="100.0" font-style="italic" fill="#2e2e2e" stroke="#fff" stroke-width="1.728">j</text>
<text transform="translate(253.57,127.50) scale(0.2688,0.2580)" font-size="100.0" font-style="italic" fill="#2e2e2e" stroke="#fff" stroke-width="1.139">e</text>
<text transform="translate(267.19,126.90) scale(0.2687,0.2810)" font-size="100.0" font-style="italic" fill="#2e2e2e" stroke="#fff" stroke-width="1.819">H</text>
<text transform="translate(286.95,132.80) scale(0.1647,0.1787)" font-size="100.0" font-style="normal" fill="#2e2e2e" stroke="#fff" stroke-width="2.038">1</text>
<path d="M290.00,110.20 L302.40,110.20" stroke="#2e2e2e" stroke-width="0.8" fill="none"/><path d="M290.00,115.10 L302.40,115.10" stroke="#2e2e2e" stroke-width="0.8" fill="none"/><path d="M296.20,104.00 L296.20,115.10" stroke="#2e2e2e" stroke-width="0.8" fill="none"/>
<text transform="translate(537.20,352.70) scale(0.2586,0.2580)" font-size="100.0" font-style="italic" fill="#2e2e2e" stroke="#fff" stroke-width="1.162">e</text>
<text transform="translate(547.98,352.11) scale(0.2993,0.2986)" font-size="100.0" font-style="italic" fill="#2e2e2e" stroke="#fff" stroke-width="1.673">t</text>
<text transform="translate(558.46,352.14) scale(0.2265,0.2672)" font-size="100.0" font-style="italic" fill="#2e2e2e" stroke="#fff" stroke-width="2.025">b</text>
<text transform="translate(608.62,380.10) scale(0.2534,0.2580)" font-size="100.0" font-style="italic" fill="#2e2e2e" stroke="#fff" stroke-width="1.173">e</text>
<g transform="translate(622.30,379.70) scale(0.78,0.79)" fill="none" stroke="#2e2e2e" stroke-linejoin="miter"><path d="M0.7,-13.5 L4.5,-14.2 L1.3,-0.3" stroke-width="1.5"/><path d="M1.0,0.0 C7.4,-2.4 13.2,-7.8 14.9,-14.3 L13.1,-14.7 C12.4,-9.6 7.4,-4.4 1.5,-1.1 Z" fill="#2e2e2e" stroke="#2e2e2e" stroke-width="0.3"/></g>
<text transform="translate(634.51,383.70) scale(0.2051,0.1863)" font-size="100.0" font-style="italic" fill="#2e2e2e" stroke="#fff" stroke-width="1.788">R</text>
<text transform="translate(648.10,383.65) scale(0.1495,0.1986)" font-size="100.0" font-style="italic" fill="#2e2e2e" stroke="#fff" stroke-width="1.149">,</text>
<text transform="translate(653.12,383.57) scale(0.2086,0.1650)" font-size="100.0" font-style="italic" fill="#2e2e2e" stroke="#fff" stroke-width="1.874">μ</text>
<text transform="translate(665.13,379.59) scale(0.3023,0.2482)" font-size="100.0" font-style="italic" fill="#2e2e2e" stroke="#fff" stroke-width="1.817">μ</text>
<text transform="translate(624.57,291.70) scale(0.2714,0.2580)" font-size="100.0" font-style="italic" fill="#2e2e2e" stroke="#fff" stroke-width="1.133">e</text>
<g transform="translate(636.90,291.10)" fill="none" stroke="#2e2e2e" stroke-linecap="round"><path d="M14.4,-10.6 L0.2,4.9" stroke-width="0.75"/><path d="M1.3,-8.6 C2.2,-10.9 4.3,-11.5 5.3,-9.0 L10.2,2.6 C11.1,4.9 12.6,5.0 13.9,3.6" stroke-width="1.45"/></g>
<path d="M641.20,276.00 c1.0,-2.2 2.6,-2.2 4.0,-0.9 c1.5,1.3 3.0,1.2 4.0,-1.2" fill="none" stroke="#2e2e2e" stroke-width="1.0" stroke-linecap="round"/>
<text transform="translate(652.04,282.03) scale(0.1746,0.1749)" font-size="100.0" font-style="normal" fill="#2e2e2e" stroke="#fff" stroke-width="2.003">0</text>
<text transform="translate(652.04,297.50) scale(0.2084,0.1767)" font-size="100.0" font-style="italic" fill="#2e2e2e" stroke="#fff" stroke-width="1.558">i</text>
<g transform="translate(663.30,291.10)" fill="none" stroke="#2e2e2e" stroke-linecap="round"><path d="M14.4,-10.6 L0.2,4.9" stroke-width="0.75"/><path d="M1.3,-8.6 C2.2,-10.9 4.3,-11.5 5.3,-9.0 L10.2,2.6 C11.1,4.9 12.6,5.0 13.9,3.6" stroke-width="1.45"/></g>
<path d="M667.80,276.00 c1.0,-2.2 2.6,-2.2 4.0,-0.9 c1.5,1.3 3.0,1.2 4.0,-1.2" fill="none" stroke="#2e2e2e" stroke-width="1.0" stroke-linecap="round"/>
<path d="M679.30,274.50 L691.70,274.50" stroke="#2e2e2e" stroke-width="0.8" fill="none"/><path d="M679.30,280.50 L691.70,280.50" stroke="#2e2e2e" stroke-width="0.8" fill="none"/><path d="M685.50,268.40 L685.50,280.50" stroke="#2e2e2e" stroke-width="0.8" fill="none"/>
<text transform="translate(680.57,297.18) scale(0.2220,0.1749)" font-size="100.0" font-style="italic" fill="#2e2e2e" stroke="#fff" stroke-width="1.512">j</text>
<text transform="translate(322.00,473.50) scale(0.3866,0.3205)" font-size="100.0" font-style="italic" fill="#2e2e2e" stroke="#fff" stroke-width="1.131">m</text>
<g transform="translate(350.00,478.20) scale(0.82,0.68)" fill="none" stroke="#2e2e2e" stroke-linejoin="miter"><path d="M0.7,-13.5 L4.5,-14.2 L1.3,-0.3" stroke-width="1.5"/><path d="M1.0,0.0 C7.4,-2.4 13.2,-7.8 14.9,-14.3 L13.1,-14.7 C12.4,-9.6 7.4,-4.4 1.5,-1.1 Z" fill="#2e2e2e" stroke="#2e2e2e" stroke-width="0.3"/></g>
<text transform="translate(363.61,481.90) scale(0.2118,0.1665)" font-size="100.0" font-style="italic" fill="#2e2e2e" stroke="#fff" stroke-width="0.264">R</text>
<text transform="translate(377.94,481.72) scale(0.1690,0.1674)" font-size="100.0" font-style="italic" fill="#2e2e2e" stroke="#fff" stroke-width="0.594">,</text>
<text transform="translate(383.16,481.85) scale(0.2074,0.1580)" font-size="100.0" font-style="italic" fill="#2e2e2e" stroke="#fff" stroke-width="0.274">e</text>
<text transform="translate(408.47,476.53) scale(0.1931,0.4011)" font-size="100.0" font-style="normal" fill="#2e2e2e" stroke="#fff" stroke-width="0.337">[</text>
<text transform="translate(415.17,473.66) scale(0.3477,0.3527)" font-size="100.0" font-style="normal" fill="#2e2e2e" stroke="#fff" stroke-width="0.286">G</text>
<text transform="translate(439.73,473.48) scale(0.3242,0.3285)" font-size="100.0" font-style="normal" fill="#2e2e2e" stroke="#fff" stroke-width="0.306">e</text>
<text transform="translate(453.82,473.48) scale(0.3416,0.3433)" font-size="100.0" font-style="normal" fill="#2e2e2e" stroke="#fff" stroke-width="0.292">V</text>
<text transform="translate(478.70,476.53) scale(0.1931,0.4011)" font-size="100.0" font-style="normal" fill="#2e2e2e" stroke="#fff" stroke-width="0.337">]</text>
</g>
<g font-family="Liberation Serif, serif" transform="translate(38.4,348.0) rotate(-90)">
<text transform="translate(-1.32,-0.10) scale(0.3207,0.3467)" font-size="100.0" font-style="normal" fill="#2e2e2e" stroke="#fff" stroke-width="0.300">B</text>
<text transform="translate(19.10,0.00) scale(0.3471,0.3482)" font-size="100.0" font-style="normal" fill="#2e2e2e" stroke="#fff" stroke-width="0.288">R</text>
<path d="M55.40,-25.00 Q38.40,-8.60 55.40,7.80 Q41.80,-8.60 55.40,-25.00 Z" fill="#2e2e2e" stroke="#2e2e2e" stroke-width="0.5" stroke-linejoin="round"/>
<g transform="translate(58.30,0.00) scale(1.0,1.0)" fill="none" stroke="#2e2e2e" stroke-linejoin="miter"><path d="M0.7,-13.5 L4.5,-14.2 L1.3,-0.3" stroke-width="1.5"/><path d="M1.0,0.0 C7.4,-2.4 13.2,-7.8 14.9,-14.3 L13.1,-14.7 C12.4,-9.6 7.4,-4.4 1.5,-1.1 Z" fill="#2e2e2e" stroke="#2e2e2e" stroke-width="0.3"/></g>
<text transform="translate(75.72,5.40) scale(0.2301,0.2092)" font-size="100.0" font-style="italic" fill="#2e2e2e" stroke="#fff" stroke-width="0.910">R</text>
<text transform="translate(90.54,5.51) scale(0.2276,0.2141)" font-size="100.0" font-style="italic" fill="#2e2e2e" stroke="#fff" stroke-width="0.906">,</text>
<text transform="translate(95.93,5.39) scale(0.2509,0.2162)" font-size="100.0" font-style="italic" fill="#2e2e2e" stroke="#fff" stroke-width="0.856">e</text>
<path d="M120.30,-8.90 L147.80,-8.90" stroke="#2e2e2e" stroke-width="1.1" fill="none"/>
<path d="M141.0,-17.0 C142.0,-12.8 145.0,-10.0 148.4,-8.9 C145.0,-7.8 142.0,-5.0 141.0,-0.8" fill="none" stroke="#2e2e2e" stroke-width="1.1"/>
<text transform="translate(161.88,0.00) scale(0.3845,0.3467)" font-size="100.0" font-style="italic" fill="#2e2e2e" stroke="#fff" stroke-width="1.368">X</text>
<text transform="translate(190.71,0.00) scale(0.3948,0.3467)" font-size="100.0" font-style="italic" fill="#2e2e2e" stroke="#fff" stroke-width="1.349">X</text>
<path d="M229.70,-25.00 Q214.30,-8.60 229.70,7.80 Q217.70,-8.60 229.70,-25.00 Z" fill="#2e2e2e" stroke="#2e2e2e" stroke-width="0.5" stroke-linejoin="round"/>
<text transform="translate(232.41,0.00) scale(0.3948,0.3467)" font-size="100.0" font-style="italic" fill="#2e2e2e" stroke="#fff" stroke-width="1.349">X</text>
<path d="M261.30,-25.00 Q276.70,-8.60 261.30,7.80 Q273.30,-8.60 261.30,-25.00 Z" fill="#2e2e2e" stroke="#2e2e2e" stroke-width="0.5" stroke-linejoin="round"/>
<path d="M273.90,-25.00 Q289.50,-8.60 273.90,7.80 Q286.10,-8.60 273.90,-25.00 Z" fill="#2e2e2e" stroke="#2e2e2e" stroke-width="0.5" stroke-linejoin="round"/>
</g>
</svg>
</body></html>
